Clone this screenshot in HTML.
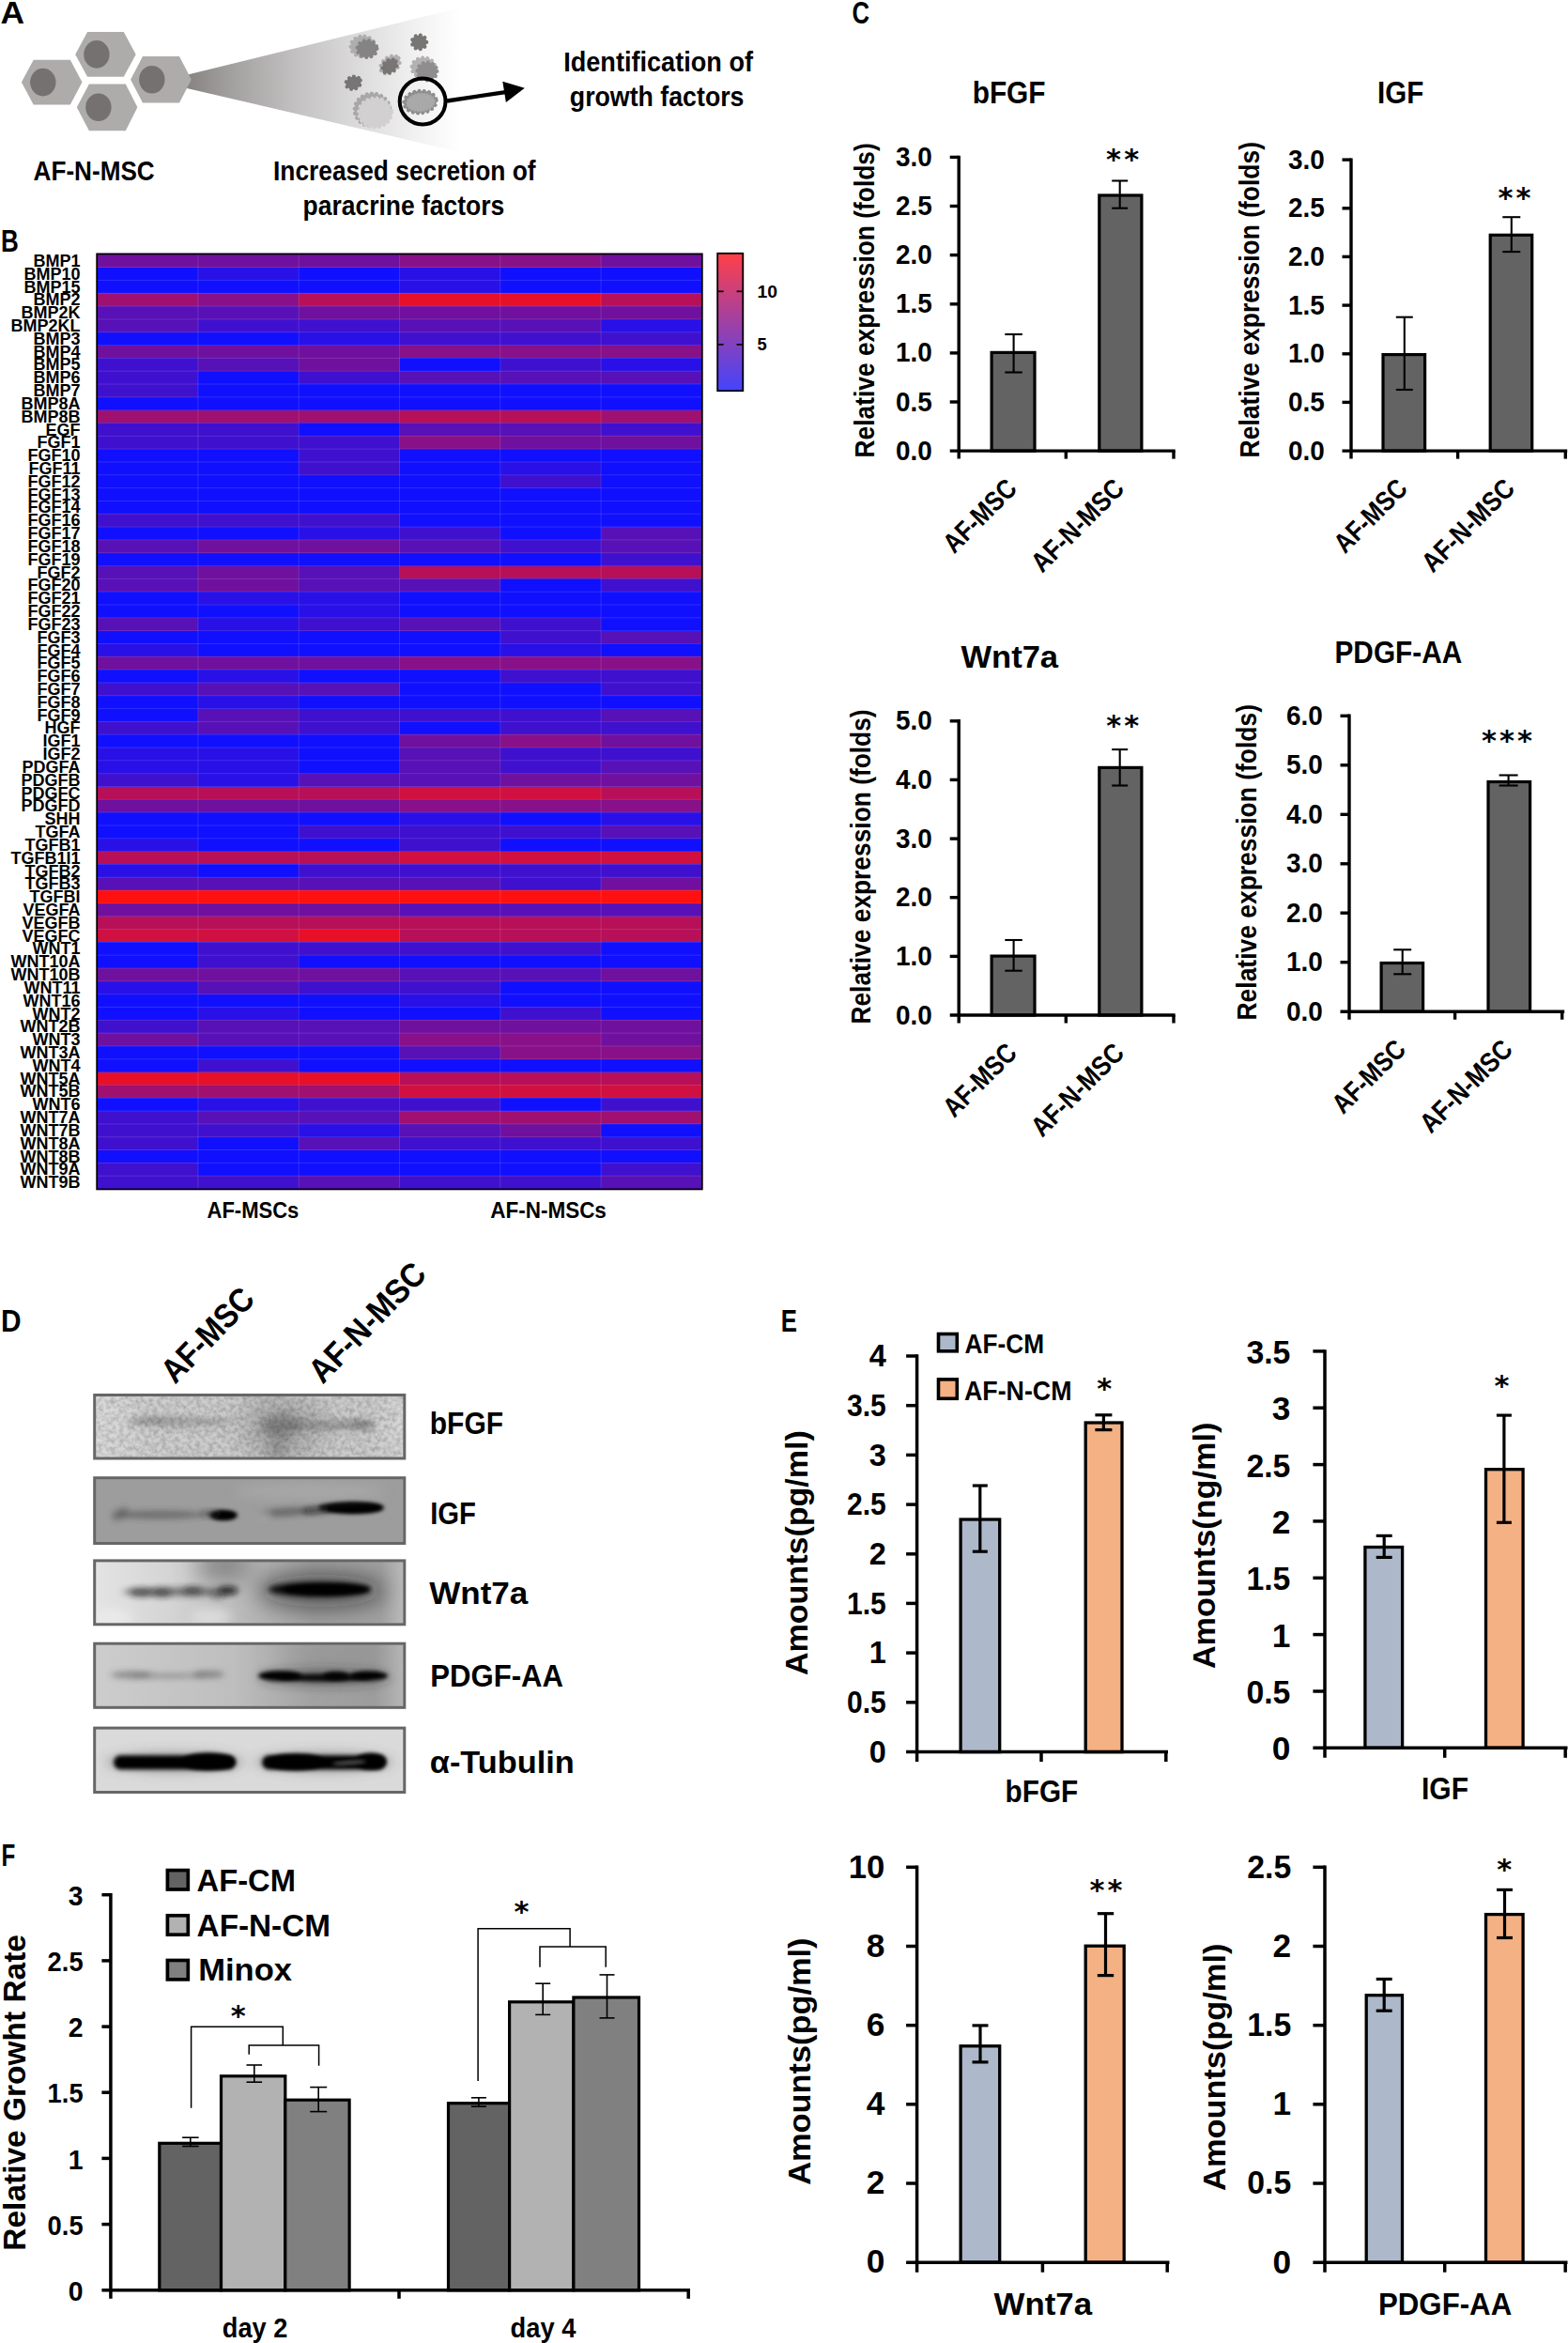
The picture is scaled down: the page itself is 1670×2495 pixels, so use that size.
<!DOCTYPE html>
<html lang="en"><head><meta charset="utf-8"><title>Figure</title>
<style>
html,body{margin:0;padding:0;background:#fff}
body{width:1670px;height:2495px;overflow:hidden}
svg{display:block}
svg line{stroke:#000}
</style></head><body>
<svg width="1670" height="2495" viewBox="0 0 1670 2495" font-family='"Liberation Sans", sans-serif' font-weight="bold" fill="#000">
<text x="0.6" y="25.3" font-size="33.80" textLength="25.6" lengthAdjust="spacingAndGlyphs">A</text>
<defs>
<linearGradient id="cone" gradientUnits="userSpaceOnUse" x1="200" y1="0" x2="490" y2="0">
<stop offset="0" stop-color="#878383"/><stop offset="0.14" stop-color="#a09d9d"/><stop offset="0.4" stop-color="#c3c1c1"/><stop offset="0.65" stop-color="#dfdede"/><stop offset="0.85" stop-color="#f2f2f2"/><stop offset="1" stop-color="#ffffff"/></linearGradient>
<filter id="rough" x="-20%" y="-20%" width="140%" height="140%"><feTurbulence type="fractalNoise" baseFrequency="0.35" numOctaves="1" seed="3" result="n"/><feDisplacementMap in="SourceGraphic" in2="n" scale="1.5" xChannelSelector="R" yChannelSelector="G"/></filter>
</defs>
<polygon points="199,79.7 490,8.2 490,162.1 199,93.9" fill="url(#cone)"/>
<polygon points="80.2,57.9 93.1,34.0 131.8,34.0 144.7,57.9 131.8,81.7 93.1,81.7" fill="#aeabab"/>
<ellipse cx="102.9" cy="57.9" rx="13.7" ry="14.8" fill="#767171"/>
<polygon points="22.9,87.6 35.7,63.8 74.8,63.8 87.5,87.6 74.8,111.5 35.7,111.5" fill="#aeabab"/>
<ellipse cx="45.8" cy="87.6" rx="13.7" ry="14.8" fill="#767171"/>
<polygon points="139.1,84.8 152.0,60.0 191.0,60.0 203.9,84.8 191.0,109.5 152.0,109.5" fill="#aeabab"/>
<ellipse cx="161.8" cy="84.8" rx="13.7" ry="14.8" fill="#767171"/>
<polygon points="81.8,114.3 94.9,89.5 133.8,89.5 146.4,114.3 133.8,139.3 94.9,139.3" fill="#aeabab"/>
<ellipse cx="104.9" cy="114.3" rx="13.7" ry="14.8" fill="#767171"/>
<g filter="url(#rough)">
<ellipse cx="386.5" cy="49.5" rx="13" ry="11" fill="#aeaeae" stroke="#aeaeae" stroke-width="4.0" stroke-linecap="round" stroke-dasharray="0.1 5.20"/>
<ellipse cx="391" cy="52" rx="10.5" ry="9" fill="#858383" stroke="#858383" stroke-width="4.0" stroke-linecap="round" stroke-dasharray="0.1 5.20"/>
<ellipse cx="446.5" cy="44.9" rx="7.8" ry="7.5" fill="#787474" stroke="#787474" stroke-width="4.0" stroke-linecap="round" stroke-dasharray="0.1 5.20"/>
<ellipse cx="415.5" cy="69" rx="11.5" ry="8" fill="#b0aeae" stroke="#b0aeae" stroke-width="4.0" stroke-linecap="round" stroke-dasharray="0.1 5.20" transform="rotate(-38 415.5 69)"/>
<ellipse cx="415" cy="70.5" rx="8.5" ry="6.3" fill="#787474" stroke="#787474" stroke-width="4.0" stroke-linecap="round" stroke-dasharray="0.1 5.20" transform="rotate(-38 415 70.5)"/>
<ellipse cx="451" cy="72" rx="12.5" ry="10.5" fill="#b3b1b1" stroke="#b3b1b1" stroke-width="4.0" stroke-linecap="round" stroke-dasharray="0.1 5.20"/>
<ellipse cx="455" cy="76" rx="10.5" ry="9.5" fill="#8f8d8d" stroke="#8f8d8d" stroke-width="4.0" stroke-linecap="round" stroke-dasharray="0.1 5.20"/>
<ellipse cx="376.3" cy="88.2" rx="8" ry="6.6" fill="#787474" stroke="#787474" stroke-width="4.0" stroke-linecap="round" stroke-dasharray="0.1 5.20" transform="rotate(-20 376.3 88.2)"/>
<ellipse cx="396.5" cy="117" rx="19" ry="17.5" fill="#a9a7a7" stroke="#a9a7a7" stroke-width="4.0" stroke-linecap="round" stroke-dasharray="0.1 5.20"/>
<ellipse cx="399.5" cy="120" rx="17.5" ry="15.5" fill="#d2d0d0" stroke="#d2d0d0" stroke-width="4.0" stroke-linecap="round" stroke-dasharray="0.1 5.20"/>
<ellipse cx="447.5" cy="108.6" rx="17.3" ry="11.8" fill="#8e8c8c" stroke="#8e8c8c" stroke-width="4.0" stroke-linecap="round" stroke-dasharray="0.1 5.20" transform="rotate(-6 447.5 108.6)"/>
<ellipse cx="448" cy="109" rx="14.5" ry="9.2" fill="#a9a9a9" stroke="#a9a9a9" stroke-width="2.4" stroke-linecap="round" stroke-dasharray="0.1 3.12" transform="rotate(-6 448 109)"/>
</g>
<circle cx="450.1" cy="108" r="24.4" fill="none" stroke="#000" stroke-width="4"/>
<line x1="476.0" y1="107.5" x2="540.0" y2="97.9" stroke-width="4.3"/>
<polygon points="535.3,86.7 558.8,93.7 538.9,109" fill="#000"/>
<text x="35.6" y="192.3" font-size="29.30" textLength="129.1" lengthAdjust="spacingAndGlyphs">AF-N-MSC</text>
<text x="291.0" y="192.1" font-size="29.30" textLength="279.5" lengthAdjust="spacingAndGlyphs">Increased secretion of</text>
<text x="322.6" y="228.9" font-size="29.30" textLength="214.7" lengthAdjust="spacingAndGlyphs">paracrine factors</text>
<text x="600.2" y="76.3" font-size="29.30" textLength="201.8" lengthAdjust="spacingAndGlyphs">Identification of</text>
<text x="606.8" y="112.9" font-size="29.30" textLength="185.7" lengthAdjust="spacingAndGlyphs">growth factors</text>
<text x="0.9" y="268.3" font-size="33.80" textLength="18.8" lengthAdjust="spacingAndGlyphs">B</text>
<g shape-rendering="crispEdges">
<rect x="103.6" y="270.80" width="322.2" height="14.12" fill="#70109f"/>
<rect x="425.5" y="270.80" width="214.9" height="14.12" fill="#881088"/>
<rect x="640.1" y="270.80" width="107.6" height="14.12" fill="#70109f"/>
<rect x="103.6" y="284.62" width="107.6" height="14.12" fill="#1010ff"/>
<rect x="210.9" y="284.62" width="107.6" height="14.12" fill="#2810e7"/>
<rect x="318.2" y="284.62" width="107.6" height="14.12" fill="#1010ff"/>
<rect x="425.5" y="284.62" width="107.6" height="14.12" fill="#2810e7"/>
<rect x="532.8" y="284.62" width="214.9" height="14.12" fill="#1010ff"/>
<rect x="103.6" y="298.44" width="322.2" height="14.12" fill="#1010ff"/>
<rect x="425.5" y="298.44" width="107.6" height="14.12" fill="#2810e7"/>
<rect x="532.8" y="298.44" width="214.9" height="14.12" fill="#1010ff"/>
<rect x="103.6" y="312.27" width="107.6" height="14.12" fill="#9f1070"/>
<rect x="210.9" y="312.27" width="107.6" height="14.12" fill="#881088"/>
<rect x="318.2" y="312.27" width="107.6" height="14.12" fill="#b71058"/>
<rect x="425.5" y="312.27" width="214.9" height="14.12" fill="#e71028"/>
<rect x="640.1" y="312.27" width="107.6" height="14.12" fill="#b71058"/>
<rect x="103.6" y="326.09" width="214.9" height="14.12" fill="#5810b7"/>
<rect x="318.2" y="326.09" width="429.5" height="14.12" fill="#70109f"/>
<rect x="103.6" y="339.91" width="107.6" height="14.12" fill="#5810b7"/>
<rect x="210.9" y="339.91" width="214.9" height="14.12" fill="#4010cf"/>
<rect x="425.5" y="339.91" width="214.9" height="14.12" fill="#5810b7"/>
<rect x="640.1" y="339.91" width="107.6" height="14.12" fill="#2810e7"/>
<rect x="103.6" y="353.73" width="214.9" height="14.12" fill="#1010ff"/>
<rect x="318.2" y="353.73" width="107.6" height="14.12" fill="#2810e7"/>
<rect x="425.5" y="353.73" width="322.2" height="14.12" fill="#4010cf"/>
<rect x="103.6" y="367.56" width="322.2" height="14.12" fill="#70109f"/>
<rect x="425.5" y="367.56" width="322.2" height="14.12" fill="#881088"/>
<rect x="103.6" y="381.38" width="107.6" height="14.12" fill="#4010cf"/>
<rect x="210.9" y="381.38" width="107.6" height="14.12" fill="#5810b7"/>
<rect x="318.2" y="381.38" width="107.6" height="14.12" fill="#70109f"/>
<rect x="425.5" y="381.38" width="107.6" height="14.12" fill="#1010ff"/>
<rect x="532.8" y="381.38" width="107.6" height="14.12" fill="#4010cf"/>
<rect x="640.1" y="381.38" width="107.6" height="14.12" fill="#2810e7"/>
<rect x="103.6" y="395.20" width="107.6" height="14.12" fill="#4010cf"/>
<rect x="210.9" y="395.20" width="107.6" height="14.12" fill="#1010ff"/>
<rect x="318.2" y="395.20" width="107.6" height="14.12" fill="#4010cf"/>
<rect x="425.5" y="395.20" width="322.2" height="14.12" fill="#5810b7"/>
<rect x="103.6" y="409.02" width="107.6" height="14.12" fill="#4010cf"/>
<rect x="210.9" y="409.02" width="536.8" height="14.12" fill="#1010ff"/>
<rect x="103.6" y="422.84" width="644.1" height="14.12" fill="#1010ff"/>
<rect x="103.6" y="436.67" width="322.2" height="14.12" fill="#9f1070"/>
<rect x="425.5" y="436.67" width="214.9" height="14.12" fill="#b71058"/>
<rect x="640.1" y="436.67" width="107.6" height="14.12" fill="#9f1070"/>
<rect x="103.6" y="450.49" width="214.9" height="14.12" fill="#4010cf"/>
<rect x="318.2" y="450.49" width="107.6" height="14.12" fill="#1010ff"/>
<rect x="425.5" y="450.49" width="214.9" height="14.12" fill="#5810b7"/>
<rect x="640.1" y="450.49" width="107.6" height="14.12" fill="#4010cf"/>
<rect x="103.6" y="464.31" width="322.2" height="14.12" fill="#4010cf"/>
<rect x="425.5" y="464.31" width="107.6" height="14.12" fill="#881088"/>
<rect x="532.8" y="464.31" width="214.9" height="14.12" fill="#70109f"/>
<rect x="103.6" y="478.13" width="214.9" height="14.12" fill="#1010ff"/>
<rect x="318.2" y="478.13" width="107.6" height="14.12" fill="#4010cf"/>
<rect x="425.5" y="478.13" width="322.2" height="14.12" fill="#1010ff"/>
<rect x="103.6" y="491.96" width="214.9" height="14.12" fill="#1010ff"/>
<rect x="318.2" y="491.96" width="107.6" height="14.12" fill="#4010cf"/>
<rect x="425.5" y="491.96" width="107.6" height="14.12" fill="#1010ff"/>
<rect x="532.8" y="491.96" width="107.6" height="14.12" fill="#2810e7"/>
<rect x="640.1" y="491.96" width="107.6" height="14.12" fill="#1010ff"/>
<rect x="103.6" y="505.78" width="429.5" height="14.12" fill="#1010ff"/>
<rect x="532.8" y="505.78" width="107.6" height="14.12" fill="#4010cf"/>
<rect x="640.1" y="505.78" width="107.6" height="14.12" fill="#1010ff"/>
<rect x="103.6" y="519.60" width="644.1" height="14.12" fill="#1010ff"/>
<rect x="103.6" y="533.42" width="644.1" height="14.12" fill="#1010ff"/>
<rect x="103.6" y="547.24" width="322.2" height="14.12" fill="#4010cf"/>
<rect x="425.5" y="547.24" width="322.2" height="14.12" fill="#1010ff"/>
<rect x="103.6" y="561.07" width="214.9" height="14.12" fill="#1010ff"/>
<rect x="318.2" y="561.07" width="107.6" height="14.12" fill="#2810e7"/>
<rect x="425.5" y="561.07" width="107.6" height="14.12" fill="#4010cf"/>
<rect x="532.8" y="561.07" width="107.6" height="14.12" fill="#1010ff"/>
<rect x="640.1" y="561.07" width="107.6" height="14.12" fill="#5810b7"/>
<rect x="103.6" y="574.89" width="107.6" height="14.12" fill="#5810b7"/>
<rect x="210.9" y="574.89" width="214.9" height="14.12" fill="#70109f"/>
<rect x="425.5" y="574.89" width="107.6" height="14.12" fill="#5810b7"/>
<rect x="532.8" y="574.89" width="107.6" height="14.12" fill="#4010cf"/>
<rect x="640.1" y="574.89" width="107.6" height="14.12" fill="#5810b7"/>
<rect x="103.6" y="588.71" width="536.8" height="14.12" fill="#1010ff"/>
<rect x="640.1" y="588.71" width="107.6" height="14.12" fill="#4010cf"/>
<rect x="103.6" y="602.53" width="107.6" height="14.12" fill="#5810b7"/>
<rect x="210.9" y="602.53" width="107.6" height="14.12" fill="#70109f"/>
<rect x="318.2" y="602.53" width="107.6" height="14.12" fill="#5810b7"/>
<rect x="425.5" y="602.53" width="322.2" height="14.12" fill="#b71058"/>
<rect x="103.6" y="616.36" width="107.6" height="14.12" fill="#5810b7"/>
<rect x="210.9" y="616.36" width="107.6" height="14.12" fill="#70109f"/>
<rect x="318.2" y="616.36" width="214.9" height="14.12" fill="#5810b7"/>
<rect x="532.8" y="616.36" width="107.6" height="14.12" fill="#1010ff"/>
<rect x="640.1" y="616.36" width="107.6" height="14.12" fill="#4010cf"/>
<rect x="103.6" y="630.18" width="107.6" height="14.12" fill="#1010ff"/>
<rect x="210.9" y="630.18" width="214.9" height="14.12" fill="#2810e7"/>
<rect x="425.5" y="630.18" width="322.2" height="14.12" fill="#1010ff"/>
<rect x="103.6" y="644.00" width="214.9" height="14.12" fill="#1010ff"/>
<rect x="318.2" y="644.00" width="107.6" height="14.12" fill="#2810e7"/>
<rect x="425.5" y="644.00" width="322.2" height="14.12" fill="#1010ff"/>
<rect x="103.6" y="657.82" width="107.6" height="14.12" fill="#5810b7"/>
<rect x="210.9" y="657.82" width="107.6" height="14.12" fill="#2810e7"/>
<rect x="318.2" y="657.82" width="107.6" height="14.12" fill="#4010cf"/>
<rect x="425.5" y="657.82" width="107.6" height="14.12" fill="#5810b7"/>
<rect x="532.8" y="657.82" width="107.6" height="14.12" fill="#4010cf"/>
<rect x="640.1" y="657.82" width="107.6" height="14.12" fill="#1010ff"/>
<rect x="103.6" y="671.64" width="429.5" height="14.12" fill="#1010ff"/>
<rect x="532.8" y="671.64" width="107.6" height="14.12" fill="#4010cf"/>
<rect x="640.1" y="671.64" width="107.6" height="14.12" fill="#5810b7"/>
<rect x="103.6" y="685.47" width="107.6" height="14.12" fill="#2810e7"/>
<rect x="210.9" y="685.47" width="322.2" height="14.12" fill="#1010ff"/>
<rect x="532.8" y="685.47" width="107.6" height="14.12" fill="#2810e7"/>
<rect x="640.1" y="685.47" width="107.6" height="14.12" fill="#1010ff"/>
<rect x="103.6" y="699.29" width="322.2" height="14.12" fill="#70109f"/>
<rect x="425.5" y="699.29" width="322.2" height="14.12" fill="#881088"/>
<rect x="103.6" y="713.11" width="107.6" height="14.12" fill="#1010ff"/>
<rect x="210.9" y="713.11" width="107.6" height="14.12" fill="#2810e7"/>
<rect x="318.2" y="713.11" width="214.9" height="14.12" fill="#1010ff"/>
<rect x="532.8" y="713.11" width="214.9" height="14.12" fill="#4010cf"/>
<rect x="103.6" y="726.93" width="107.6" height="14.12" fill="#4010cf"/>
<rect x="210.9" y="726.93" width="214.9" height="14.12" fill="#5810b7"/>
<rect x="425.5" y="726.93" width="214.9" height="14.12" fill="#1010ff"/>
<rect x="640.1" y="726.93" width="107.6" height="14.12" fill="#4010cf"/>
<rect x="103.6" y="740.76" width="107.6" height="14.12" fill="#1010ff"/>
<rect x="210.9" y="740.76" width="107.6" height="14.12" fill="#2810e7"/>
<rect x="318.2" y="740.76" width="429.5" height="14.12" fill="#1010ff"/>
<rect x="103.6" y="754.58" width="107.6" height="14.12" fill="#1010ff"/>
<rect x="210.9" y="754.58" width="107.6" height="14.12" fill="#5810b7"/>
<rect x="318.2" y="754.58" width="322.2" height="14.12" fill="#4010cf"/>
<rect x="640.1" y="754.58" width="107.6" height="14.12" fill="#5810b7"/>
<rect x="103.6" y="768.40" width="107.6" height="14.12" fill="#4010cf"/>
<rect x="210.9" y="768.40" width="107.6" height="14.12" fill="#5810b7"/>
<rect x="318.2" y="768.40" width="107.6" height="14.12" fill="#4010cf"/>
<rect x="425.5" y="768.40" width="107.6" height="14.12" fill="#1010ff"/>
<rect x="532.8" y="768.40" width="214.9" height="14.12" fill="#4010cf"/>
<rect x="103.6" y="782.22" width="322.2" height="14.12" fill="#1010ff"/>
<rect x="425.5" y="782.22" width="107.6" height="14.12" fill="#70109f"/>
<rect x="532.8" y="782.22" width="107.6" height="14.12" fill="#881088"/>
<rect x="640.1" y="782.22" width="107.6" height="14.12" fill="#70109f"/>
<rect x="103.6" y="796.04" width="214.9" height="14.12" fill="#2810e7"/>
<rect x="318.2" y="796.04" width="107.6" height="14.12" fill="#1010ff"/>
<rect x="425.5" y="796.04" width="107.6" height="14.12" fill="#5810b7"/>
<rect x="532.8" y="796.04" width="214.9" height="14.12" fill="#4010cf"/>
<rect x="103.6" y="809.87" width="214.9" height="14.12" fill="#2810e7"/>
<rect x="318.2" y="809.87" width="107.6" height="14.12" fill="#1010ff"/>
<rect x="425.5" y="809.87" width="107.6" height="14.12" fill="#5810b7"/>
<rect x="532.8" y="809.87" width="107.6" height="14.12" fill="#4010cf"/>
<rect x="640.1" y="809.87" width="107.6" height="14.12" fill="#5810b7"/>
<rect x="103.6" y="823.69" width="107.6" height="14.12" fill="#4010cf"/>
<rect x="210.9" y="823.69" width="107.6" height="14.12" fill="#2810e7"/>
<rect x="318.2" y="823.69" width="214.9" height="14.12" fill="#5810b7"/>
<rect x="532.8" y="823.69" width="214.9" height="14.12" fill="#70109f"/>
<rect x="103.6" y="837.51" width="322.2" height="14.12" fill="#b71058"/>
<rect x="425.5" y="837.51" width="214.9" height="14.12" fill="#cf1040"/>
<rect x="640.1" y="837.51" width="107.6" height="14.12" fill="#b71058"/>
<rect x="103.6" y="851.33" width="322.2" height="14.12" fill="#70109f"/>
<rect x="425.5" y="851.33" width="322.2" height="14.12" fill="#881088"/>
<rect x="103.6" y="865.16" width="322.2" height="14.12" fill="#1010ff"/>
<rect x="425.5" y="865.16" width="107.6" height="14.12" fill="#2810e7"/>
<rect x="532.8" y="865.16" width="107.6" height="14.12" fill="#1010ff"/>
<rect x="640.1" y="865.16" width="107.6" height="14.12" fill="#2810e7"/>
<rect x="103.6" y="878.98" width="214.9" height="14.12" fill="#1010ff"/>
<rect x="318.2" y="878.98" width="322.2" height="14.12" fill="#4010cf"/>
<rect x="640.1" y="878.98" width="107.6" height="14.12" fill="#5810b7"/>
<rect x="103.6" y="892.80" width="107.6" height="14.12" fill="#2810e7"/>
<rect x="210.9" y="892.80" width="214.9" height="14.12" fill="#1010ff"/>
<rect x="425.5" y="892.80" width="107.6" height="14.12" fill="#4010cf"/>
<rect x="532.8" y="892.80" width="214.9" height="14.12" fill="#1010ff"/>
<rect x="103.6" y="906.62" width="322.2" height="14.12" fill="#b71058"/>
<rect x="425.5" y="906.62" width="322.2" height="14.12" fill="#cf1040"/>
<rect x="103.6" y="920.44" width="107.6" height="14.12" fill="#2810e7"/>
<rect x="210.9" y="920.44" width="107.6" height="14.12" fill="#1010ff"/>
<rect x="318.2" y="920.44" width="429.5" height="14.12" fill="#4010cf"/>
<rect x="103.6" y="934.27" width="429.5" height="14.12" fill="#5810b7"/>
<rect x="532.8" y="934.27" width="107.6" height="14.12" fill="#4010cf"/>
<rect x="640.1" y="934.27" width="107.6" height="14.12" fill="#70109f"/>
<rect x="103.6" y="948.09" width="644.1" height="14.12" fill="#ff1010"/>
<rect x="103.6" y="961.91" width="322.2" height="14.12" fill="#70109f"/>
<rect x="425.5" y="961.91" width="322.2" height="14.12" fill="#5810b7"/>
<rect x="103.6" y="975.73" width="644.1" height="14.12" fill="#b71058"/>
<rect x="103.6" y="989.56" width="214.9" height="14.12" fill="#cf1040"/>
<rect x="318.2" y="989.56" width="107.6" height="14.12" fill="#e71028"/>
<rect x="425.5" y="989.56" width="322.2" height="14.12" fill="#b71058"/>
<rect x="103.6" y="1003.38" width="107.6" height="14.12" fill="#1010ff"/>
<rect x="210.9" y="1003.38" width="429.5" height="14.12" fill="#4010cf"/>
<rect x="640.1" y="1003.38" width="107.6" height="14.12" fill="#1010ff"/>
<rect x="103.6" y="1017.20" width="107.6" height="14.12" fill="#1010ff"/>
<rect x="210.9" y="1017.20" width="107.6" height="14.12" fill="#4010cf"/>
<rect x="318.2" y="1017.20" width="429.5" height="14.12" fill="#1010ff"/>
<rect x="103.6" y="1031.02" width="322.2" height="14.12" fill="#70109f"/>
<rect x="425.5" y="1031.02" width="214.9" height="14.12" fill="#5810b7"/>
<rect x="640.1" y="1031.02" width="107.6" height="14.12" fill="#70109f"/>
<rect x="103.6" y="1044.84" width="107.6" height="14.12" fill="#2810e7"/>
<rect x="210.9" y="1044.84" width="107.6" height="14.12" fill="#5810b7"/>
<rect x="318.2" y="1044.84" width="214.9" height="14.12" fill="#4010cf"/>
<rect x="532.8" y="1044.84" width="214.9" height="14.12" fill="#1010ff"/>
<rect x="103.6" y="1058.67" width="322.2" height="14.12" fill="#1010ff"/>
<rect x="425.5" y="1058.67" width="107.6" height="14.12" fill="#2810e7"/>
<rect x="532.8" y="1058.67" width="214.9" height="14.12" fill="#1010ff"/>
<rect x="103.6" y="1072.49" width="107.6" height="14.12" fill="#1010ff"/>
<rect x="210.9" y="1072.49" width="107.6" height="14.12" fill="#2810e7"/>
<rect x="318.2" y="1072.49" width="214.9" height="14.12" fill="#1010ff"/>
<rect x="532.8" y="1072.49" width="107.6" height="14.12" fill="#4010cf"/>
<rect x="640.1" y="1072.49" width="107.6" height="14.12" fill="#1010ff"/>
<rect x="103.6" y="1086.31" width="107.6" height="14.12" fill="#4010cf"/>
<rect x="210.9" y="1086.31" width="214.9" height="14.12" fill="#5810b7"/>
<rect x="425.5" y="1086.31" width="322.2" height="14.12" fill="#70109f"/>
<rect x="103.6" y="1100.13" width="107.6" height="14.12" fill="#70109f"/>
<rect x="210.9" y="1100.13" width="214.9" height="14.12" fill="#5810b7"/>
<rect x="425.5" y="1100.13" width="214.9" height="14.12" fill="#881088"/>
<rect x="640.1" y="1100.13" width="107.6" height="14.12" fill="#70109f"/>
<rect x="103.6" y="1113.96" width="322.2" height="14.12" fill="#1010ff"/>
<rect x="425.5" y="1113.96" width="107.6" height="14.12" fill="#5810b7"/>
<rect x="532.8" y="1113.96" width="214.9" height="14.12" fill="#881088"/>
<rect x="103.6" y="1127.78" width="107.6" height="14.12" fill="#1010ff"/>
<rect x="210.9" y="1127.78" width="107.6" height="14.12" fill="#4010cf"/>
<rect x="318.2" y="1127.78" width="429.5" height="14.12" fill="#1010ff"/>
<rect x="103.6" y="1141.60" width="322.2" height="14.12" fill="#e71028"/>
<rect x="425.5" y="1141.60" width="322.2" height="14.12" fill="#b71058"/>
<rect x="103.6" y="1155.42" width="322.2" height="14.12" fill="#9f1070"/>
<rect x="425.5" y="1155.42" width="322.2" height="14.12" fill="#cf1040"/>
<rect x="103.6" y="1169.24" width="107.6" height="14.12" fill="#1010ff"/>
<rect x="210.9" y="1169.24" width="107.6" height="14.12" fill="#2810e7"/>
<rect x="318.2" y="1169.24" width="214.9" height="14.12" fill="#4010cf"/>
<rect x="532.8" y="1169.24" width="107.6" height="14.12" fill="#1010ff"/>
<rect x="640.1" y="1169.24" width="107.6" height="14.12" fill="#4010cf"/>
<rect x="103.6" y="1183.07" width="107.6" height="14.12" fill="#4010cf"/>
<rect x="210.9" y="1183.07" width="214.9" height="14.12" fill="#5810b7"/>
<rect x="425.5" y="1183.07" width="322.2" height="14.12" fill="#9f1070"/>
<rect x="103.6" y="1196.89" width="214.9" height="14.12" fill="#4010cf"/>
<rect x="318.2" y="1196.89" width="107.6" height="14.12" fill="#2810e7"/>
<rect x="425.5" y="1196.89" width="107.6" height="14.12" fill="#5810b7"/>
<rect x="532.8" y="1196.89" width="107.6" height="14.12" fill="#70109f"/>
<rect x="640.1" y="1196.89" width="107.6" height="14.12" fill="#1010ff"/>
<rect x="103.6" y="1210.71" width="107.6" height="14.12" fill="#4010cf"/>
<rect x="210.9" y="1210.71" width="107.6" height="14.12" fill="#1010ff"/>
<rect x="318.2" y="1210.71" width="107.6" height="14.12" fill="#5810b7"/>
<rect x="425.5" y="1210.71" width="322.2" height="14.12" fill="#4010cf"/>
<rect x="103.6" y="1224.53" width="644.1" height="14.12" fill="#1010ff"/>
<rect x="103.6" y="1238.36" width="107.6" height="14.12" fill="#4010cf"/>
<rect x="210.9" y="1238.36" width="429.5" height="14.12" fill="#1010ff"/>
<rect x="640.1" y="1238.36" width="107.6" height="14.12" fill="#4010cf"/>
<rect x="103.6" y="1252.18" width="214.9" height="14.12" fill="#4010cf"/>
<rect x="318.2" y="1252.18" width="107.6" height="14.12" fill="#5810b7"/>
<rect x="425.5" y="1252.18" width="214.9" height="14.12" fill="#4010cf"/>
<rect x="640.1" y="1252.18" width="107.6" height="14.12" fill="#5810b7"/>
</g>
<path d="M210.9,270.8V1266.0M318.2,270.8V1266.0M425.5,270.8V1266.0M532.8,270.8V1266.0M640.1,270.8V1266.0M103.6,284.62H747.4M103.6,298.44H747.4M103.6,312.27H747.4M103.6,326.09H747.4M103.6,339.91H747.4M103.6,353.73H747.4M103.6,367.56H747.4M103.6,381.38H747.4M103.6,395.20H747.4M103.6,409.02H747.4M103.6,422.84H747.4M103.6,436.67H747.4M103.6,450.49H747.4M103.6,464.31H747.4M103.6,478.13H747.4M103.6,491.96H747.4M103.6,505.78H747.4M103.6,519.60H747.4M103.6,533.42H747.4M103.6,547.24H747.4M103.6,561.07H747.4M103.6,574.89H747.4M103.6,588.71H747.4M103.6,602.53H747.4M103.6,616.36H747.4M103.6,630.18H747.4M103.6,644.00H747.4M103.6,657.82H747.4M103.6,671.64H747.4M103.6,685.47H747.4M103.6,699.29H747.4M103.6,713.11H747.4M103.6,726.93H747.4M103.6,740.76H747.4M103.6,754.58H747.4M103.6,768.40H747.4M103.6,782.22H747.4M103.6,796.04H747.4M103.6,809.87H747.4M103.6,823.69H747.4M103.6,837.51H747.4M103.6,851.33H747.4M103.6,865.16H747.4M103.6,878.98H747.4M103.6,892.80H747.4M103.6,906.62H747.4M103.6,920.44H747.4M103.6,934.27H747.4M103.6,948.09H747.4M103.6,961.91H747.4M103.6,975.73H747.4M103.6,989.56H747.4M103.6,1003.38H747.4M103.6,1017.20H747.4M103.6,1031.02H747.4M103.6,1044.84H747.4M103.6,1058.67H747.4M103.6,1072.49H747.4M103.6,1086.31H747.4M103.6,1100.13H747.4M103.6,1113.96H747.4M103.6,1127.78H747.4M103.6,1141.60H747.4M103.6,1155.42H747.4M103.6,1169.24H747.4M103.6,1183.07H747.4M103.6,1196.89H747.4M103.6,1210.71H747.4M103.6,1224.53H747.4M103.6,1238.36H747.4M103.6,1252.18H747.4" stroke="#fff" stroke-opacity="0.13" stroke-width="1" fill="none"/>
<rect x="103.19999999999999" y="270.40000000000003" width="644.6" height="996.0" fill="none" stroke="#000" stroke-width="1.8"/>
<g font-size="18.22" text-anchor="end">
<text x="85.6" y="283.9" transform="translate(85.6 0) scale(0.99 1) translate(-85.6 0)">BMP1</text>
<text x="85.6" y="297.7" transform="translate(85.6 0) scale(0.99 1) translate(-85.6 0)">BMP10</text>
<text x="85.6" y="311.6" transform="translate(85.6 0) scale(0.99 1) translate(-85.6 0)">BMP15</text>
<text x="85.6" y="325.4" transform="translate(85.6 0) scale(0.99 1) translate(-85.6 0)">BMP2</text>
<text x="85.6" y="339.2" transform="translate(85.6 0) scale(0.99 1) translate(-85.6 0)">BMP2K</text>
<text x="85.6" y="353.0" transform="translate(85.6 0) scale(0.99 1) translate(-85.6 0)">BMP2KL</text>
<text x="85.6" y="366.8" transform="translate(85.6 0) scale(0.99 1) translate(-85.6 0)">BMP3</text>
<text x="85.6" y="380.7" transform="translate(85.6 0) scale(0.99 1) translate(-85.6 0)">BMP4</text>
<text x="85.6" y="394.5" transform="translate(85.6 0) scale(0.99 1) translate(-85.6 0)">BMP5</text>
<text x="85.6" y="408.3" transform="translate(85.6 0) scale(0.99 1) translate(-85.6 0)">BMP6</text>
<text x="85.6" y="422.1" transform="translate(85.6 0) scale(0.99 1) translate(-85.6 0)">BMP7</text>
<text x="85.6" y="436.0" transform="translate(85.6 0) scale(0.99 1) translate(-85.6 0)">BMP8A</text>
<text x="85.6" y="449.8" transform="translate(85.6 0) scale(0.99 1) translate(-85.6 0)">BMP8B</text>
<text x="85.6" y="463.6" transform="translate(85.6 0) scale(0.99 1) translate(-85.6 0)">EGF</text>
<text x="85.6" y="477.4" transform="translate(85.6 0) scale(0.99 1) translate(-85.6 0)">FGF1</text>
<text x="85.6" y="491.2" transform="translate(85.6 0) scale(0.99 1) translate(-85.6 0)">FGF10</text>
<text x="85.6" y="505.1" transform="translate(85.6 0) scale(0.99 1) translate(-85.6 0)">FGF11</text>
<text x="85.6" y="518.9" transform="translate(85.6 0) scale(0.99 1) translate(-85.6 0)">FGF12</text>
<text x="85.6" y="532.7" transform="translate(85.6 0) scale(0.99 1) translate(-85.6 0)">FGF13</text>
<text x="85.6" y="546.5" transform="translate(85.6 0) scale(0.99 1) translate(-85.6 0)">FGF14</text>
<text x="85.6" y="560.4" transform="translate(85.6 0) scale(0.99 1) translate(-85.6 0)">FGF16</text>
<text x="85.6" y="574.2" transform="translate(85.6 0) scale(0.99 1) translate(-85.6 0)">FGF17</text>
<text x="85.6" y="588.0" transform="translate(85.6 0) scale(0.99 1) translate(-85.6 0)">FGF18</text>
<text x="85.6" y="601.8" transform="translate(85.6 0) scale(0.99 1) translate(-85.6 0)">FGF19</text>
<text x="85.6" y="615.6" transform="translate(85.6 0) scale(0.99 1) translate(-85.6 0)">FGF2</text>
<text x="85.6" y="629.5" transform="translate(85.6 0) scale(0.99 1) translate(-85.6 0)">FGF20</text>
<text x="85.6" y="643.3" transform="translate(85.6 0) scale(0.99 1) translate(-85.6 0)">FGF21</text>
<text x="85.6" y="657.1" transform="translate(85.6 0) scale(0.99 1) translate(-85.6 0)">FGF22</text>
<text x="85.6" y="670.9" transform="translate(85.6 0) scale(0.99 1) translate(-85.6 0)">FGF23</text>
<text x="85.6" y="684.8" transform="translate(85.6 0) scale(0.99 1) translate(-85.6 0)">FGF3</text>
<text x="85.6" y="698.6" transform="translate(85.6 0) scale(0.99 1) translate(-85.6 0)">FGF4</text>
<text x="85.6" y="712.4" transform="translate(85.6 0) scale(0.99 1) translate(-85.6 0)">FGF5</text>
<text x="85.6" y="726.2" transform="translate(85.6 0) scale(0.99 1) translate(-85.6 0)">FGF6</text>
<text x="85.6" y="740.0" transform="translate(85.6 0) scale(0.99 1) translate(-85.6 0)">FGF7</text>
<text x="85.6" y="753.9" transform="translate(85.6 0) scale(0.99 1) translate(-85.6 0)">FGF8</text>
<text x="85.6" y="767.7" transform="translate(85.6 0) scale(0.99 1) translate(-85.6 0)">FGF9</text>
<text x="85.6" y="781.5" transform="translate(85.6 0) scale(0.99 1) translate(-85.6 0)">HGF</text>
<text x="85.6" y="795.3" transform="translate(85.6 0) scale(0.99 1) translate(-85.6 0)">IGF1</text>
<text x="85.6" y="809.2" transform="translate(85.6 0) scale(0.99 1) translate(-85.6 0)">IGF2</text>
<text x="85.6" y="823.0" transform="translate(85.6 0) scale(0.99 1) translate(-85.6 0)">PDGFA</text>
<text x="85.6" y="836.8" transform="translate(85.6 0) scale(0.99 1) translate(-85.6 0)">PDGFB</text>
<text x="85.6" y="850.6" transform="translate(85.6 0) scale(0.99 1) translate(-85.6 0)">PDGFC</text>
<text x="85.6" y="864.4" transform="translate(85.6 0) scale(0.99 1) translate(-85.6 0)">PDGFD</text>
<text x="85.6" y="878.3" transform="translate(85.6 0) scale(0.99 1) translate(-85.6 0)">SHH</text>
<text x="85.6" y="892.1" transform="translate(85.6 0) scale(0.99 1) translate(-85.6 0)">TGFA</text>
<text x="85.6" y="905.9" transform="translate(85.6 0) scale(0.99 1) translate(-85.6 0)">TGFB1</text>
<text x="85.6" y="919.7" transform="translate(85.6 0) scale(0.99 1) translate(-85.6 0)">TGFB1I1</text>
<text x="85.6" y="933.6" transform="translate(85.6 0) scale(0.99 1) translate(-85.6 0)">TGFB2</text>
<text x="85.6" y="947.4" transform="translate(85.6 0) scale(0.99 1) translate(-85.6 0)">TGFB3</text>
<text x="85.6" y="961.2" transform="translate(85.6 0) scale(0.99 1) translate(-85.6 0)">TGFBI</text>
<text x="85.6" y="975.0" transform="translate(85.6 0) scale(0.99 1) translate(-85.6 0)">VEGFA</text>
<text x="85.6" y="988.8" transform="translate(85.6 0) scale(0.99 1) translate(-85.6 0)">VEGFB</text>
<text x="85.6" y="1002.7" transform="translate(85.6 0) scale(0.99 1) translate(-85.6 0)">VEGFC</text>
<text x="85.6" y="1016.5" transform="translate(85.6 0) scale(0.99 1) translate(-85.6 0)">WNT1</text>
<text x="85.6" y="1030.3" transform="translate(85.6 0) scale(0.99 1) translate(-85.6 0)">WNT10A</text>
<text x="85.6" y="1044.1" transform="translate(85.6 0) scale(0.99 1) translate(-85.6 0)">WNT10B</text>
<text x="85.6" y="1058.0" transform="translate(85.6 0) scale(0.99 1) translate(-85.6 0)">WNT11</text>
<text x="85.6" y="1071.8" transform="translate(85.6 0) scale(0.99 1) translate(-85.6 0)">WNT16</text>
<text x="85.6" y="1085.6" transform="translate(85.6 0) scale(0.99 1) translate(-85.6 0)">WNT2</text>
<text x="85.6" y="1099.4" transform="translate(85.6 0) scale(0.99 1) translate(-85.6 0)">WNT2B</text>
<text x="85.6" y="1113.2" transform="translate(85.6 0) scale(0.99 1) translate(-85.6 0)">WNT3</text>
<text x="85.6" y="1127.1" transform="translate(85.6 0) scale(0.99 1) translate(-85.6 0)">WNT3A</text>
<text x="85.6" y="1140.9" transform="translate(85.6 0) scale(0.99 1) translate(-85.6 0)">WNT4</text>
<text x="85.6" y="1154.7" transform="translate(85.6 0) scale(0.99 1) translate(-85.6 0)">WNT5A</text>
<text x="85.6" y="1168.5" transform="translate(85.6 0) scale(0.99 1) translate(-85.6 0)">WNT5B</text>
<text x="85.6" y="1182.4" transform="translate(85.6 0) scale(0.99 1) translate(-85.6 0)">WNT6</text>
<text x="85.6" y="1196.2" transform="translate(85.6 0) scale(0.99 1) translate(-85.6 0)">WNT7A</text>
<text x="85.6" y="1210.0" transform="translate(85.6 0) scale(0.99 1) translate(-85.6 0)">WNT7B</text>
<text x="85.6" y="1223.8" transform="translate(85.6 0) scale(0.99 1) translate(-85.6 0)">WNT8A</text>
<text x="85.6" y="1237.6" transform="translate(85.6 0) scale(0.99 1) translate(-85.6 0)">WNT8B</text>
<text x="85.6" y="1251.5" transform="translate(85.6 0) scale(0.99 1) translate(-85.6 0)">WNT9A</text>
<text x="85.6" y="1265.3" transform="translate(85.6 0) scale(0.99 1) translate(-85.6 0)">WNT9B</text>
</g>
<text x="220.5" y="1297.1" font-size="24.54" textLength="97.8" lengthAdjust="spacingAndGlyphs">AF-MSCs</text>
<text x="522.2" y="1297.1" font-size="24.54" textLength="123.7" lengthAdjust="spacingAndGlyphs">AF-N-MSCs</text>
<defs><linearGradient id="cb" x1="0" y1="0" x2="0" y2="1"><stop offset="0" stop-color="#ff4048"/><stop offset="0.5" stop-color="#a040a4"/><stop offset="1" stop-color="#4444fc"/></linearGradient></defs>
<rect x="764.2" y="269.8" width="27.1" height="146.4" fill="url(#cb)" stroke="#000" stroke-width="1.8"/>
<line x1="764.2" y1="310.3" x2="770.6" y2="310.3" stroke-width="1.7"/>
<line x1="784.6" y1="310.3" x2="791.3" y2="310.3" stroke-width="1.7"/>
<line x1="764.2" y1="366.9" x2="770.6" y2="366.9" stroke-width="1.7"/>
<line x1="784.6" y1="366.9" x2="791.3" y2="366.9" stroke-width="1.7"/>
<text x="806.5" y="316.7" font-size="18.88" textLength="21.5" lengthAdjust="spacingAndGlyphs">10</text>
<text x="806.5" y="373.3" font-size="18.88" textLength="10.2" lengthAdjust="spacingAndGlyphs">5</text>
<text x="907.6" y="25.3" font-size="33.80" textLength="18.6" lengthAdjust="spacingAndGlyphs">C</text>
<rect x="1056.1" y="375.4" width="45.9" height="104.7" fill="#636363" stroke="#000" stroke-width="3.2"/>
<rect x="1170.8" y="208.0" width="45.1" height="272.1" fill="#636363" stroke="#000" stroke-width="3.2"/>
<line x1="1079.6" y1="356.0" x2="1079.6" y2="396.5" stroke-width="2.1"/><line x1="1070.3" y1="356.0" x2="1088.8" y2="356.0" stroke-width="2.1"/><line x1="1070.3" y1="396.5" x2="1088.8" y2="396.5" stroke-width="2.1"/>
<line x1="1192.7" y1="192.5" x2="1192.7" y2="221.7" stroke-width="2.1"/><line x1="1184.2" y1="192.5" x2="1201.2" y2="192.5" stroke-width="2.1"/><line x1="1184.2" y1="221.7" x2="1201.2" y2="221.7" stroke-width="2.1"/>
<line x1="1021.2" y1="165.7" x2="1021.2" y2="488.6" stroke-width="3.4"/>
<line x1="1011.7" y1="480.1" x2="1251.7" y2="480.1" stroke-width="3.4"/>
<line x1="1011.7" y1="167.4" x2="1021.2" y2="167.4" stroke-width="3.4"/>
<text x="992.9" y="176.9" font-size="29.30" text-anchor="end" textLength="38.8" lengthAdjust="spacingAndGlyphs">3.0</text>
<line x1="1011.7" y1="219.5" x2="1021.2" y2="219.5" stroke-width="3.4"/>
<text x="992.9" y="229.0" font-size="29.30" text-anchor="end" textLength="38.8" lengthAdjust="spacingAndGlyphs">2.5</text>
<line x1="1011.7" y1="271.6" x2="1021.2" y2="271.6" stroke-width="3.4"/>
<text x="992.9" y="281.1" font-size="29.30" text-anchor="end" textLength="38.8" lengthAdjust="spacingAndGlyphs">2.0</text>
<line x1="1011.7" y1="323.8" x2="1021.2" y2="323.8" stroke-width="3.4"/>
<text x="992.9" y="333.2" font-size="29.30" text-anchor="end" textLength="38.8" lengthAdjust="spacingAndGlyphs">1.5</text>
<line x1="1011.7" y1="375.9" x2="1021.2" y2="375.9" stroke-width="3.4"/>
<text x="992.9" y="385.4" font-size="29.30" text-anchor="end" textLength="38.8" lengthAdjust="spacingAndGlyphs">1.0</text>
<line x1="1011.7" y1="428.0" x2="1021.2" y2="428.0" stroke-width="3.4"/>
<text x="992.9" y="437.5" font-size="29.30" text-anchor="end" textLength="38.8" lengthAdjust="spacingAndGlyphs">0.5</text>
<text x="992.9" y="489.6" font-size="29.30" text-anchor="end" textLength="38.8" lengthAdjust="spacingAndGlyphs">0.0</text>
<line x1="1135.3" y1="480.1" x2="1135.3" y2="488.6" stroke-width="3.4"/>
<line x1="1250.0" y1="480.1" x2="1250.0" y2="488.6" stroke-width="3.4"/>
<text x="1178.1" y="180.2" font-size="30.5" font-family='"DejaVu Sans", "Liberation Sans", sans-serif' letter-spacing="3.1">**</text>
<text x="1035.7" y="109.7" font-size="34.00" textLength="77.8" lengthAdjust="spacingAndGlyphs">bFGF</text>
<text x="931.3" y="487.4" font-size="29.30" textLength="335.1" lengthAdjust="spacingAndGlyphs" transform="rotate(-90 931.3 487.4)">Relative expression (folds)</text>
<text x="1084.6" y="522.1" font-size="29.30" text-anchor="end" textLength="96.6" lengthAdjust="spacingAndGlyphs" transform="rotate(-45 1084.6 522.1)">AF-MSC</text>
<text x="1198.9" y="522.1" font-size="29.30" text-anchor="end" textLength="125.7" lengthAdjust="spacingAndGlyphs" transform="rotate(-45 1198.9 522.1)">AF-N-MSC</text>
<rect x="1473.0" y="377.6" width="44.6" height="102.5" fill="#636363" stroke="#000" stroke-width="3.2"/>
<rect x="1587.2" y="250.3" width="44.5" height="229.8" fill="#636363" stroke="#000" stroke-width="3.2"/>
<line x1="1495.8" y1="337.7" x2="1495.8" y2="415.0" stroke-width="2.1"/><line x1="1486.8" y1="337.7" x2="1504.8" y2="337.7" stroke-width="2.1"/><line x1="1486.8" y1="415.0" x2="1504.8" y2="415.0" stroke-width="2.1"/>
<line x1="1609.8" y1="231.2" x2="1609.8" y2="268.1" stroke-width="2.1"/><line x1="1600.3" y1="231.2" x2="1619.3" y2="231.2" stroke-width="2.1"/><line x1="1600.3" y1="268.1" x2="1619.3" y2="268.1" stroke-width="2.1"/>
<line x1="1439.0" y1="168.4" x2="1439.0" y2="488.6" stroke-width="3.4"/>
<line x1="1429.5" y1="480.1" x2="1669.2" y2="480.1" stroke-width="3.4"/>
<line x1="1429.5" y1="170.1" x2="1439.0" y2="170.1" stroke-width="3.4"/>
<text x="1410.7" y="179.6" font-size="29.30" text-anchor="end" textLength="38.8" lengthAdjust="spacingAndGlyphs">3.0</text>
<line x1="1429.5" y1="221.8" x2="1439.0" y2="221.8" stroke-width="3.4"/>
<text x="1410.7" y="231.3" font-size="29.30" text-anchor="end" textLength="38.8" lengthAdjust="spacingAndGlyphs">2.5</text>
<line x1="1429.5" y1="273.4" x2="1439.0" y2="273.4" stroke-width="3.4"/>
<text x="1410.7" y="282.9" font-size="29.30" text-anchor="end" textLength="38.8" lengthAdjust="spacingAndGlyphs">2.0</text>
<line x1="1429.5" y1="325.1" x2="1439.0" y2="325.1" stroke-width="3.4"/>
<text x="1410.7" y="334.6" font-size="29.30" text-anchor="end" textLength="38.8" lengthAdjust="spacingAndGlyphs">1.5</text>
<line x1="1429.5" y1="376.8" x2="1439.0" y2="376.8" stroke-width="3.4"/>
<text x="1410.7" y="386.3" font-size="29.30" text-anchor="end" textLength="38.8" lengthAdjust="spacingAndGlyphs">1.0</text>
<line x1="1429.5" y1="428.4" x2="1439.0" y2="428.4" stroke-width="3.4"/>
<text x="1410.7" y="437.9" font-size="29.30" text-anchor="end" textLength="38.8" lengthAdjust="spacingAndGlyphs">0.5</text>
<text x="1410.7" y="489.6" font-size="29.30" text-anchor="end" textLength="38.8" lengthAdjust="spacingAndGlyphs">0.0</text>
<line x1="1552.6" y1="480.1" x2="1552.6" y2="488.6" stroke-width="3.4"/>
<line x1="1667.3" y1="480.1" x2="1667.3" y2="488.6" stroke-width="3.4"/>
<text x="1595.5" y="220.8" font-size="30.5" font-family='"DejaVu Sans", "Liberation Sans", sans-serif' letter-spacing="3.1">**</text>
<text x="1467.0" y="109.7" font-size="34.00" textLength="49.2" lengthAdjust="spacingAndGlyphs">IGF</text>
<text x="1341.5" y="487.4" font-size="29.30" textLength="336.4" lengthAdjust="spacingAndGlyphs" transform="rotate(-90 1341.5 487.4)">Relative expression (folds)</text>
<text x="1500.8" y="522.1" font-size="29.30" text-anchor="end" textLength="96.6" lengthAdjust="spacingAndGlyphs" transform="rotate(-45 1500.8 522.1)">AF-MSC</text>
<text x="1615.0" y="522.1" font-size="29.30" text-anchor="end" textLength="125.7" lengthAdjust="spacingAndGlyphs" transform="rotate(-45 1615.0 522.1)">AF-N-MSC</text>
<rect x="1056.1" y="1018.1" width="45.9" height="62.9" fill="#636363" stroke="#000" stroke-width="3.2"/>
<rect x="1170.8" y="817.4" width="45.1" height="263.6" fill="#636363" stroke="#000" stroke-width="3.2"/>
<line x1="1079.6" y1="1001.0" x2="1079.6" y2="1033.7" stroke-width="2.1"/><line x1="1070.3" y1="1001.0" x2="1088.8" y2="1001.0" stroke-width="2.1"/><line x1="1070.3" y1="1033.7" x2="1088.8" y2="1033.7" stroke-width="2.1"/>
<line x1="1192.7" y1="798.1" x2="1192.7" y2="836.5" stroke-width="2.1"/><line x1="1184.2" y1="798.1" x2="1201.2" y2="798.1" stroke-width="2.1"/><line x1="1184.2" y1="836.5" x2="1201.2" y2="836.5" stroke-width="2.1"/>
<line x1="1021.2" y1="766.1" x2="1021.2" y2="1089.5" stroke-width="3.4"/>
<line x1="1011.7" y1="1081.0" x2="1251.7" y2="1081.0" stroke-width="3.4"/>
<line x1="1011.7" y1="767.8" x2="1021.2" y2="767.8" stroke-width="3.4"/>
<text x="992.9" y="777.3" font-size="29.30" text-anchor="end" textLength="38.8" lengthAdjust="spacingAndGlyphs">5.0</text>
<line x1="1011.7" y1="830.4" x2="1021.2" y2="830.4" stroke-width="3.4"/>
<text x="992.9" y="839.9" font-size="29.30" text-anchor="end" textLength="38.8" lengthAdjust="spacingAndGlyphs">4.0</text>
<line x1="1011.7" y1="893.1" x2="1021.2" y2="893.1" stroke-width="3.4"/>
<text x="992.9" y="902.6" font-size="29.30" text-anchor="end" textLength="38.8" lengthAdjust="spacingAndGlyphs">3.0</text>
<line x1="1011.7" y1="955.7" x2="1021.2" y2="955.7" stroke-width="3.4"/>
<text x="992.9" y="965.2" font-size="29.30" text-anchor="end" textLength="38.8" lengthAdjust="spacingAndGlyphs">2.0</text>
<line x1="1011.7" y1="1018.4" x2="1021.2" y2="1018.4" stroke-width="3.4"/>
<text x="992.9" y="1027.9" font-size="29.30" text-anchor="end" textLength="38.8" lengthAdjust="spacingAndGlyphs">1.0</text>
<text x="992.9" y="1090.5" font-size="29.30" text-anchor="end" textLength="38.8" lengthAdjust="spacingAndGlyphs">0.0</text>
<line x1="1135.3" y1="1081.0" x2="1135.3" y2="1089.5" stroke-width="3.4"/>
<line x1="1250.0" y1="1081.0" x2="1250.0" y2="1089.5" stroke-width="3.4"/>
<text x="1178.3" y="783.4" font-size="30.5" font-family='"DejaVu Sans", "Liberation Sans", sans-serif' letter-spacing="3.1">**</text>
<text x="1023.4" y="711.0" font-size="34.00" textLength="103.7" lengthAdjust="spacingAndGlyphs">Wnt7a</text>
<text x="927.3" y="1090.6" font-size="29.30" textLength="335.2" lengthAdjust="spacingAndGlyphs" transform="rotate(-90 927.3 1090.6)">Relative expression (folds)</text>
<text x="1084.6" y="1123.0" font-size="29.30" text-anchor="end" textLength="96.6" lengthAdjust="spacingAndGlyphs" transform="rotate(-45 1084.6 1123.0)">AF-MSC</text>
<text x="1198.9" y="1123.0" font-size="29.30" text-anchor="end" textLength="125.7" lengthAdjust="spacingAndGlyphs" transform="rotate(-45 1198.9 1123.0)">AF-N-MSC</text>
<rect x="1471.1" y="1025.5" width="44.5" height="51.7" fill="#636363" stroke="#000" stroke-width="3.2"/>
<rect x="1585.0" y="832.5" width="44.6" height="244.7" fill="#636363" stroke="#000" stroke-width="3.2"/>
<line x1="1493.7" y1="1011.3" x2="1493.7" y2="1037.3" stroke-width="2.1"/><line x1="1484.2" y1="1011.3" x2="1503.2" y2="1011.3" stroke-width="2.1"/><line x1="1484.2" y1="1037.3" x2="1503.2" y2="1037.3" stroke-width="2.1"/>
<line x1="1606.6" y1="825.5" x2="1606.6" y2="836.5" stroke-width="2.1"/><line x1="1596.6" y1="825.5" x2="1616.6" y2="825.5" stroke-width="2.1"/><line x1="1596.6" y1="836.5" x2="1616.6" y2="836.5" stroke-width="2.1"/>
<line x1="1437.0" y1="760.6" x2="1437.0" y2="1085.7" stroke-width="3.4"/>
<line x1="1427.5" y1="1077.2" x2="1666.2" y2="1077.2" stroke-width="3.4"/>
<line x1="1427.5" y1="762.3" x2="1437.0" y2="762.3" stroke-width="3.4"/>
<text x="1408.7" y="771.8" font-size="29.30" text-anchor="end" textLength="38.8" lengthAdjust="spacingAndGlyphs">6.0</text>
<line x1="1427.5" y1="814.8" x2="1437.0" y2="814.8" stroke-width="3.4"/>
<text x="1408.7" y="824.3" font-size="29.30" text-anchor="end" textLength="38.8" lengthAdjust="spacingAndGlyphs">5.0</text>
<line x1="1427.5" y1="867.3" x2="1437.0" y2="867.3" stroke-width="3.4"/>
<text x="1408.7" y="876.8" font-size="29.30" text-anchor="end" textLength="38.8" lengthAdjust="spacingAndGlyphs">4.0</text>
<line x1="1427.5" y1="919.8" x2="1437.0" y2="919.8" stroke-width="3.4"/>
<text x="1408.7" y="929.2" font-size="29.30" text-anchor="end" textLength="38.8" lengthAdjust="spacingAndGlyphs">3.0</text>
<line x1="1427.5" y1="972.2" x2="1437.0" y2="972.2" stroke-width="3.4"/>
<text x="1408.7" y="981.7" font-size="29.30" text-anchor="end" textLength="38.8" lengthAdjust="spacingAndGlyphs">2.0</text>
<line x1="1427.5" y1="1024.7" x2="1437.0" y2="1024.7" stroke-width="3.4"/>
<text x="1408.7" y="1034.2" font-size="29.30" text-anchor="end" textLength="38.8" lengthAdjust="spacingAndGlyphs">1.0</text>
<text x="1408.7" y="1086.7" font-size="29.30" text-anchor="end" textLength="38.8" lengthAdjust="spacingAndGlyphs">0.0</text>
<line x1="1549.6" y1="1077.2" x2="1549.6" y2="1085.7" stroke-width="3.4"/>
<line x1="1663.7" y1="1077.2" x2="1663.7" y2="1085.7" stroke-width="3.4"/>
<text x="1578.0" y="799.3" font-size="30.5" font-family='"DejaVu Sans", "Liberation Sans", sans-serif' letter-spacing="3.1">***</text>
<text x="1421.5" y="705.5" font-size="34.00" textLength="135.7" lengthAdjust="spacingAndGlyphs">PDGF-AA</text>
<text x="1338.3" y="1086.5" font-size="29.30" textLength="336.5" lengthAdjust="spacingAndGlyphs" transform="rotate(-90 1338.3 1086.5)">Relative expression (folds)</text>
<text x="1498.9" y="1119.2" font-size="29.30" text-anchor="end" textLength="96.6" lengthAdjust="spacingAndGlyphs" transform="rotate(-45 1498.9 1119.2)">AF-MSC</text>
<text x="1612.8" y="1119.2" font-size="29.30" text-anchor="end" textLength="125.7" lengthAdjust="spacingAndGlyphs" transform="rotate(-45 1612.8 1119.2)">AF-N-MSC</text>
<text x="0.9" y="1418.4" font-size="33.80" textLength="21.6" lengthAdjust="spacingAndGlyphs">D</text>
<defs>
<filter id="b2" x="-30%" y="-80%" width="160%" height="260%"><feGaussianBlur stdDeviation="2"/></filter>
<filter id="b3" x="-30%" y="-80%" width="160%" height="260%"><feGaussianBlur stdDeviation="3.2"/></filter>
<filter id="b6" x="-40%" y="-100%" width="180%" height="300%"><feGaussianBlur stdDeviation="6"/></filter>
<filter id="b12" x="-50%" y="-120%" width="200%" height="340%"><feGaussianBlur stdDeviation="12"/></filter>
<filter id="grain" x="0" y="0" width="100%" height="100%"><feTurbulence type="fractalNoise" baseFrequency="0.22" numOctaves="2" seed="7"/><feColorMatrix type="matrix" values="0 0 0 0 0  0 0 0 0 0  0 0 0 0 0  1.6 0 0 0 -0.55"/></filter>
<linearGradient id="g1" x1="0" y1="0" x2="1" y2="0"><stop offset="0" stop-color="#dcdcdc"/><stop offset="0.2" stop-color="#cecece"/><stop offset="0.55" stop-color="#cccccc"/><stop offset="0.9" stop-color="#cccccc"/><stop offset="1" stop-color="#dadada"/></linearGradient>
<linearGradient id="g3" x1="0" y1="0" x2="1" y2="0"><stop offset="0" stop-color="#e4e4e4"/><stop offset="0.25" stop-color="#d4d4d4"/><stop offset="0.45" stop-color="#bcbcbc"/><stop offset="0.7" stop-color="#a0a0a0"/><stop offset="0.92" stop-color="#a0a0a0"/><stop offset="1" stop-color="#bcbcbc"/></linearGradient>
<linearGradient id="g4" x1="0" y1="0" x2="1" y2="0"><stop offset="0" stop-color="#cdcdcd"/><stop offset="0.45" stop-color="#bebebe"/><stop offset="0.7" stop-color="#a2a2a2"/><stop offset="0.9" stop-color="#9c9c9c"/><stop offset="1" stop-color="#b8b8b8"/></linearGradient>
</defs>
<text x="186.6" y="1474.8" font-size="36.00" textLength="124.5" lengthAdjust="spacingAndGlyphs" transform="rotate(-46 186.6 1474.8)">AF-MSC</text>
<text x="343.8" y="1474.8" font-size="36.00" textLength="161.5" lengthAdjust="spacingAndGlyphs" transform="rotate(-46 343.8 1474.8)">AF-N-MSC</text>
<clipPath id="bc1"><rect x="101.7" y="1486.5" width="328.1" height="65.5"/></clipPath>
<g clip-path="url(#bc1)">
<rect x="99.2" y="1484.0" width="333.1" height="70.5" fill="url(#g1)" stroke="none"/>
<ellipse cx="300" cy="1520" rx="45" ry="40" fill="#909090" fill-opacity="0.45" filter="url(#b12)"/>
<ellipse cx="192" cy="1514" rx="56" ry="5" fill="#808080" fill-opacity="0.5" filter="url(#b3)"/>
<ellipse cx="160" cy="1512.5" rx="20" ry="4.5" fill="#787878" fill-opacity="0.3" filter="url(#b3)"/>
<ellipse cx="299" cy="1518" rx="22" ry="11" fill="#5e5e5e" fill-opacity="0.62" filter="url(#b6)"/>
<ellipse cx="296" cy="1541" rx="11" ry="13" fill="#707070" fill-opacity="0.45" filter="url(#b6)"/>
<ellipse cx="352" cy="1517.5" rx="48" ry="6" fill="#747474" fill-opacity="0.5" filter="url(#b3)"/>
<ellipse cx="386" cy="1517" rx="13" ry="5.5" fill="#686868" fill-opacity="0.42" filter="url(#b3)"/>
<rect x="99.0" y="1484.0" width="334.0" height="71.0" fill="#555" stroke="none" filter="url(#grain)" opacity="0.24"/>
</g>
<rect x="100.7" y="1485.5" width="330.1" height="67.5" fill="none" stroke="#666" stroke-width="3"/>
<clipPath id="bc2"><rect x="101.7" y="1574.7" width="328.1" height="67.8"/></clipPath>
<g clip-path="url(#bc2)">
<rect x="99.2" y="1572.2" width="333.1" height="72.8" fill="#9d9d9d" stroke="none"/>
<ellipse cx="170" cy="1613" rx="48" ry="4.2" fill="#3c3c3c" fill-opacity="0.5" filter="url(#b3)"/>
<ellipse cx="128" cy="1612" rx="10" ry="5.5" fill="#3c3c3c" fill-opacity="0.4" filter="url(#b3)" transform="rotate(-30 128 1612)"/>
<ellipse cx="238" cy="1613.5" rx="15" ry="5.2" fill="#000" fill-opacity="1" filter="url(#b2)"/>
<ellipse cx="239" cy="1613.5" rx="11" ry="3.6" fill="#000" fill-opacity="1" filter="url(#b2)"/>
<ellipse cx="225" cy="1612" rx="12" ry="3" fill="#222" fill-opacity="0.6" filter="url(#b3)"/>
<ellipse cx="305" cy="1610" rx="30" ry="4.2" fill="#3a3a3a" fill-opacity="0.55" filter="url(#b3)" transform="rotate(-4 305 1610)"/>
<ellipse cx="282" cy="1613" rx="8" ry="5" fill="#d0d0d0" fill-opacity="0.3" filter="url(#b3)"/>
<ellipse cx="374" cy="1605.5" rx="35" ry="6.3" fill="#000" fill-opacity="1" filter="url(#b2)"/>
<ellipse cx="378" cy="1605.5" rx="29" ry="5" fill="#000" fill-opacity="1" filter="url(#b2)"/>
<ellipse cx="338" cy="1608" rx="16" ry="3.5" fill="#111" fill-opacity="0.7" filter="url(#b3)" transform="rotate(-5 338 1608)"/>
<ellipse cx="330" cy="1588" rx="80" ry="9" fill="#b4b4b4" fill-opacity="0.45" filter="url(#b6)"/>
</g>
<rect x="100.7" y="1573.7" width="330.1" height="69.8" fill="none" stroke="#666" stroke-width="3"/>
<clipPath id="bc3"><rect x="101.7" y="1662.9" width="328.1" height="65.9"/></clipPath>
<g clip-path="url(#bc3)">
<rect x="99.2" y="1660.4" width="333.1" height="70.9" fill="url(#g3)" stroke="none"/>
<ellipse cx="238" cy="1668" rx="30" ry="16" fill="#6a6a6a" fill-opacity="0.7" filter="url(#b12)"/>
<ellipse cx="342" cy="1694" rx="68" ry="17" fill="#1a1a1a" fill-opacity="0.55" filter="url(#b12)"/>
<ellipse cx="190" cy="1695" rx="60" ry="4.8" fill="#303030" fill-opacity="0.55" filter="url(#b3)"/>
<ellipse cx="150" cy="1696" rx="12" ry="4.6" fill="#222" fill-opacity="0.5" filter="url(#b3)"/>
<ellipse cx="172" cy="1696" rx="10" ry="4.6" fill="#222" fill-opacity="0.5" filter="url(#b3)"/>
<ellipse cx="205" cy="1693.5" rx="10" ry="4.2" fill="#222" fill-opacity="0.5" filter="url(#b3)"/>
<ellipse cx="243" cy="1693.5" rx="11" ry="4.3" fill="#111" fill-opacity="0.8" filter="url(#b3)"/>
<ellipse cx="232" cy="1699" rx="8" ry="3.6" fill="#222" fill-opacity="0.4" filter="url(#b3)"/>
<ellipse cx="340" cy="1692.5" rx="55" ry="7.2" fill="#000" fill-opacity="1" filter="url(#b3)"/>
<ellipse cx="348" cy="1692.5" rx="46" ry="5.8" fill="#000" fill-opacity="1" filter="url(#b2)"/>
<ellipse cx="225" cy="1722" rx="22" ry="8" fill="#e8e8e8" fill-opacity="0.7" filter="url(#b6)"/>
<ellipse cx="120" cy="1722" rx="22" ry="8" fill="#f0f0f0" fill-opacity="0.7" filter="url(#b6)"/>
</g>
<rect x="100.7" y="1661.9" width="330.1" height="67.9" fill="none" stroke="#666" stroke-width="3"/>
<clipPath id="bc4"><rect x="101.7" y="1751.2" width="328.1" height="66.1"/></clipPath>
<g clip-path="url(#bc4)">
<rect x="99.2" y="1748.7" width="333.1" height="71.1" fill="url(#g4)" stroke="none"/>
<ellipse cx="355" cy="1762" rx="60" ry="12" fill="#8a8a8a" fill-opacity="0.55" filter="url(#b12)"/>
<ellipse cx="140" cy="1783.5" rx="22" ry="3.8" fill="#4a4a4a" fill-opacity="0.5" filter="url(#b3)"/>
<ellipse cx="180" cy="1784.5" rx="40" ry="3" fill="#5a5a5a" fill-opacity="0.4" filter="url(#b3)"/>
<ellipse cx="222" cy="1783" rx="17" ry="3.8" fill="#4a4a4a" fill-opacity="0.5" filter="url(#b3)"/>
<ellipse cx="345" cy="1786" rx="70" ry="8.5" fill="#2a2a2a" fill-opacity="0.5" filter="url(#b6)"/>
<ellipse cx="298" cy="1784.5" rx="23" ry="5.3" fill="#000" fill-opacity="1" filter="url(#b2)"/>
<ellipse cx="345" cy="1786.5" rx="50" ry="4" fill="#000" fill-opacity="0.9" filter="url(#b2)"/>
<ellipse cx="358" cy="1784.5" rx="14" ry="4.4" fill="#000" fill-opacity="0.9" filter="url(#b2)"/>
<ellipse cx="393" cy="1784.5" rx="20" ry="5" fill="#000" fill-opacity="1" filter="url(#b2)"/>
</g>
<rect x="100.7" y="1750.2" width="330.1" height="68.1" fill="none" stroke="#666" stroke-width="3"/>
<clipPath id="bc5"><rect x="101.7" y="1841.1" width="328.1" height="66.4"/></clipPath>
<g clip-path="url(#bc5)">
<rect x="99.2" y="1838.6" width="333.1" height="71.4" fill="#dadada" stroke="none"/>
<ellipse cx="186" cy="1876.5" rx="74" ry="11" fill="#555" fill-opacity="0.4" filter="url(#b6)"/>
<ellipse cx="345" cy="1876.5" rx="74" ry="11" fill="#555" fill-opacity="0.4" filter="url(#b6)"/>
<rect x="121" y="1869.2" width="130" height="15" rx="7.5" fill="#000" filter="url(#b2)"/>
<ellipse cx="222" cy="1875.8" rx="28" ry="9.2" fill="#000" fill-opacity="1" filter="url(#b2)"/>
<rect x="279" y="1869.2" width="132" height="15" rx="7.5" fill="#000" filter="url(#b2)"/>
<ellipse cx="315" cy="1876.2" rx="30" ry="8.8" fill="#000" fill-opacity="1" filter="url(#b2)"/>
<ellipse cx="395" cy="1875.5" rx="16" ry="8.8" fill="#000" fill-opacity="1" filter="url(#b2)"/>
<ellipse cx="372" cy="1877" rx="18" ry="1.3" fill="#999" fill-opacity="0.9" filter="url(#b2)" transform="rotate(-4 372 1877)"/>
</g>
<rect x="100.7" y="1840.1" width="330.1" height="68.4" fill="none" stroke="#666" stroke-width="3"/>
<text x="457.8" y="1527.3" font-size="33.80" textLength="78.3" lengthAdjust="spacingAndGlyphs">bFGF</text>
<text x="458.2" y="1623.1" font-size="33.80" textLength="48.8" lengthAdjust="spacingAndGlyphs">IGF</text>
<text x="457.2" y="1708.1" font-size="33.80" textLength="105.2" lengthAdjust="spacingAndGlyphs">Wnt7a</text>
<text x="458.2" y="1796.4" font-size="33.80" textLength="141.8" lengthAdjust="spacingAndGlyphs">PDGF-AA</text>
<text x="457.8" y="1887.8" font-size="33.80" textLength="154.0" lengthAdjust="spacingAndGlyphs">α-Tubulin</text>
<text x="831.8" y="1418.3" font-size="33.80" textLength="17.2" lengthAdjust="spacingAndGlyphs">E</text>
<rect x="1023.1" y="1618.0" width="41.6" height="247.6" fill="#adb9ca" stroke="#000" stroke-width="3.3"/>
<rect x="1156.2" y="1515.0" width="38.8" height="350.6" fill="#f4b183" stroke="#000" stroke-width="3.3"/>
<line x1="1043.8" y1="1582.0" x2="1043.8" y2="1652.2" stroke-width="3.2"/><line x1="1035.8" y1="1582.0" x2="1051.8" y2="1582.0" stroke-width="3.2"/><line x1="1035.8" y1="1652.2" x2="1051.8" y2="1652.2" stroke-width="3.2"/>
<line x1="1175.4" y1="1506.8" x2="1175.4" y2="1522.6" stroke-width="3.2"/><line x1="1166.4" y1="1506.8" x2="1184.4" y2="1506.8" stroke-width="3.2"/><line x1="1166.4" y1="1522.6" x2="1184.4" y2="1522.6" stroke-width="3.2"/>
<line x1="976.6" y1="1442.2" x2="976.6" y2="1876.0" stroke-width="3.5"/>
<line x1="965.1" y1="1865.5" x2="1244.0" y2="1865.5" stroke-width="3.5"/>
<line x1="965.1" y1="1444.0" x2="976.6" y2="1444.0" stroke-width="3.5"/>
<text x="943.8" y="1455.2" font-size="32.50" text-anchor="end">4</text>
<line x1="965.1" y1="1496.7" x2="976.6" y2="1496.7" stroke-width="3.5"/>
<text x="943.8" y="1507.9" font-size="32.50" text-anchor="end" textLength="41.8" lengthAdjust="spacingAndGlyphs">3.5</text>
<line x1="965.1" y1="1549.4" x2="976.6" y2="1549.4" stroke-width="3.5"/>
<text x="943.8" y="1560.6" font-size="32.50" text-anchor="end">3</text>
<line x1="965.1" y1="1602.1" x2="976.6" y2="1602.1" stroke-width="3.5"/>
<text x="943.8" y="1613.3" font-size="32.50" text-anchor="end" textLength="41.8" lengthAdjust="spacingAndGlyphs">2.5</text>
<line x1="965.1" y1="1654.8" x2="976.6" y2="1654.8" stroke-width="3.5"/>
<text x="943.8" y="1666.0" font-size="32.50" text-anchor="end">2</text>
<line x1="965.1" y1="1707.4" x2="976.6" y2="1707.4" stroke-width="3.5"/>
<text x="943.8" y="1718.6" font-size="32.50" text-anchor="end" textLength="41.8" lengthAdjust="spacingAndGlyphs">1.5</text>
<line x1="965.1" y1="1760.1" x2="976.6" y2="1760.1" stroke-width="3.5"/>
<text x="943.8" y="1771.3" font-size="32.50" text-anchor="end">1</text>
<line x1="965.1" y1="1812.8" x2="976.6" y2="1812.8" stroke-width="3.5"/>
<text x="943.8" y="1824.0" font-size="32.50" text-anchor="end" textLength="41.8" lengthAdjust="spacingAndGlyphs">0.5</text>
<text x="943.8" y="1876.7" font-size="32.50" text-anchor="end">0</text>
<line x1="1109.0" y1="1865.5" x2="1109.0" y2="1876.0" stroke-width="3.5"/>
<line x1="1241.8" y1="1865.5" x2="1241.8" y2="1876.0" stroke-width="3.5"/>
<text x="1168.2" y="1489.0" font-size="30.5" font-family='"DejaVu Sans", "Liberation Sans", sans-serif' letter-spacing="3.1">*</text>
<text x="1070.6" y="1919.3" font-size="34.00" textLength="77.7" lengthAdjust="spacingAndGlyphs">bFGF</text>
<text x="860.5" y="1784.1" font-size="34.00" textLength="261.0" lengthAdjust="spacingAndGlyphs" transform="rotate(-90 860.5 1784.1)">Amounts(pg/ml)</text>
<rect x="999.5" y="1420.5" width="19.8" height="18.3" fill="#adb9ca" stroke="#000" stroke-width="3.6"/>
<rect x="999.5" y="1468.9" width="19.8" height="20.4" fill="#f4b183" stroke="#000" stroke-width="3.6"/>
<text x="1027.5" y="1440.6" font-size="29.30" textLength="84.5" lengthAdjust="spacingAndGlyphs">AF-CM</text>
<text x="1027.0" y="1490.6" font-size="29.30" textLength="114.5" lengthAdjust="spacingAndGlyphs">AF-N-CM</text>
<rect x="1453.9" y="1647.5" width="39.7" height="213.8" fill="#adb9ca" stroke="#000" stroke-width="3.3"/>
<rect x="1582.5" y="1564.7" width="39.6" height="296.6" fill="#f4b183" stroke="#000" stroke-width="3.3"/>
<line x1="1474.2" y1="1635.4" x2="1474.2" y2="1658.4" stroke-width="3.2"/><line x1="1465.7" y1="1635.4" x2="1482.7" y2="1635.4" stroke-width="3.2"/><line x1="1465.7" y1="1658.4" x2="1482.7" y2="1658.4" stroke-width="3.2"/>
<line x1="1601.9" y1="1507.1" x2="1601.9" y2="1621.3" stroke-width="3.2"/><line x1="1593.9" y1="1507.1" x2="1609.9" y2="1507.1" stroke-width="3.2"/><line x1="1593.9" y1="1621.3" x2="1609.9" y2="1621.3" stroke-width="3.2"/>
<line x1="1411.0" y1="1437.2" x2="1411.0" y2="1871.8" stroke-width="3.5"/>
<line x1="1398.4" y1="1861.3" x2="1669.5" y2="1861.3" stroke-width="3.5"/>
<line x1="1398.4" y1="1438.9" x2="1411.0" y2="1438.9" stroke-width="3.5"/>
<text x="1374.4" y="1452.0" font-size="35.30" text-anchor="end" textLength="47.0" lengthAdjust="spacingAndGlyphs">3.5</text>
<line x1="1398.4" y1="1499.2" x2="1411.0" y2="1499.2" stroke-width="3.5"/>
<text x="1374.4" y="1512.3" font-size="35.30" text-anchor="end">3</text>
<line x1="1398.4" y1="1559.6" x2="1411.0" y2="1559.6" stroke-width="3.5"/>
<text x="1374.4" y="1572.7" font-size="35.30" text-anchor="end" textLength="47.0" lengthAdjust="spacingAndGlyphs">2.5</text>
<line x1="1398.4" y1="1619.9" x2="1411.0" y2="1619.9" stroke-width="3.5"/>
<text x="1374.4" y="1633.0" font-size="35.30" text-anchor="end">2</text>
<line x1="1398.4" y1="1680.3" x2="1411.0" y2="1680.3" stroke-width="3.5"/>
<text x="1374.4" y="1693.4" font-size="35.30" text-anchor="end" textLength="47.0" lengthAdjust="spacingAndGlyphs">1.5</text>
<line x1="1398.4" y1="1740.6" x2="1411.0" y2="1740.6" stroke-width="3.5"/>
<text x="1374.4" y="1753.7" font-size="35.30" text-anchor="end">1</text>
<line x1="1398.4" y1="1801.0" x2="1411.0" y2="1801.0" stroke-width="3.5"/>
<text x="1374.4" y="1814.1" font-size="35.30" text-anchor="end" textLength="47.0" lengthAdjust="spacingAndGlyphs">0.5</text>
<text x="1374.4" y="1874.4" font-size="35.30" text-anchor="end">0</text>
<line x1="1538.7" y1="1861.3" x2="1538.7" y2="1871.8" stroke-width="3.5"/>
<line x1="1667.2" y1="1861.3" x2="1667.2" y2="1871.8" stroke-width="3.5"/>
<text x="1591.4" y="1486.4" font-size="30.5" font-family='"DejaVu Sans", "Liberation Sans", sans-serif' letter-spacing="3.1">*</text>
<text x="1514.0" y="1915.9" font-size="34.00" textLength="50.0" lengthAdjust="spacingAndGlyphs">IGF</text>
<text x="1294.3" y="1777.1" font-size="34.00" textLength="262.4" lengthAdjust="spacingAndGlyphs" transform="rotate(-90 1294.3 1777.1)">Amounts(ng/ml)</text>
<rect x="1023.1" y="2178.8" width="41.6" height="230.3" fill="#adb9ca" stroke="#000" stroke-width="3.3"/>
<rect x="1156.2" y="2072.2" width="41.0" height="337.0" fill="#f4b183" stroke="#000" stroke-width="3.3"/>
<line x1="1044.0" y1="2156.9" x2="1044.0" y2="2195.9" stroke-width="3.2"/><line x1="1035.5" y1="2156.9" x2="1052.5" y2="2156.9" stroke-width="3.2"/><line x1="1035.5" y1="2195.9" x2="1052.5" y2="2195.9" stroke-width="3.2"/>
<line x1="1177.5" y1="2037.7" x2="1177.5" y2="2103.6" stroke-width="3.2"/><line x1="1168.8" y1="2037.7" x2="1186.2" y2="2037.7" stroke-width="3.2"/><line x1="1168.8" y1="2103.6" x2="1186.2" y2="2103.6" stroke-width="3.2"/>
<line x1="976.6" y1="1986.5" x2="976.6" y2="2419.7" stroke-width="3.5"/>
<line x1="965.1" y1="2409.2" x2="1245.5" y2="2409.2" stroke-width="3.5"/>
<line x1="965.1" y1="1988.3" x2="976.6" y2="1988.3" stroke-width="3.5"/>
<text x="942.3" y="1999.5" font-size="35.30" text-anchor="end" textLength="38.6" lengthAdjust="spacingAndGlyphs">10</text>
<line x1="965.1" y1="2072.5" x2="976.6" y2="2072.5" stroke-width="3.5"/>
<text x="942.3" y="2083.7" font-size="35.30" text-anchor="end">8</text>
<line x1="965.1" y1="2156.7" x2="976.6" y2="2156.7" stroke-width="3.5"/>
<text x="942.3" y="2167.9" font-size="35.30" text-anchor="end">6</text>
<line x1="965.1" y1="2240.8" x2="976.6" y2="2240.8" stroke-width="3.5"/>
<text x="942.3" y="2252.0" font-size="35.30" text-anchor="end">4</text>
<line x1="965.1" y1="2325.0" x2="976.6" y2="2325.0" stroke-width="3.5"/>
<text x="942.3" y="2336.2" font-size="35.30" text-anchor="end">2</text>
<text x="942.3" y="2420.4" font-size="35.30" text-anchor="end">0</text>
<line x1="1110.4" y1="2409.2" x2="1110.4" y2="2419.7" stroke-width="3.5"/>
<line x1="1243.2" y1="2409.2" x2="1243.2" y2="2419.7" stroke-width="3.5"/>
<text x="1160.4" y="2023.2" font-size="30.5" font-family='"DejaVu Sans", "Liberation Sans", sans-serif' letter-spacing="3.1">**</text>
<text x="1058.5" y="2464.7" font-size="34.00" textLength="104.5" lengthAdjust="spacingAndGlyphs">Wnt7a</text>
<text x="863.1" y="2326.7" font-size="34.00" textLength="263.2" lengthAdjust="spacingAndGlyphs" transform="rotate(-90 863.1 2326.7)">Amounts(pg/ml)</text>
<rect x="1455.2" y="2124.7" width="38.3" height="284.5" fill="#adb9ca" stroke="#000" stroke-width="3.3"/>
<rect x="1582.5" y="2038.6" width="39.6" height="370.6" fill="#f4b183" stroke="#000" stroke-width="3.3"/>
<line x1="1474.2" y1="2107.5" x2="1474.2" y2="2141.2" stroke-width="3.2"/><line x1="1465.7" y1="2107.5" x2="1482.7" y2="2107.5" stroke-width="3.2"/><line x1="1465.7" y1="2141.2" x2="1482.7" y2="2141.2" stroke-width="3.2"/>
<line x1="1602.5" y1="2012.4" x2="1602.5" y2="2063.5" stroke-width="3.2"/><line x1="1594.0" y1="2012.4" x2="1611.0" y2="2012.4" stroke-width="3.2"/><line x1="1594.0" y1="2063.5" x2="1611.0" y2="2063.5" stroke-width="3.2"/>
<line x1="1411.0" y1="1986.5" x2="1411.0" y2="2419.7" stroke-width="3.5"/>
<line x1="1398.4" y1="2409.2" x2="1669.5" y2="2409.2" stroke-width="3.5"/>
<line x1="1398.4" y1="1988.3" x2="1411.0" y2="1988.3" stroke-width="3.5"/>
<text x="1375.2" y="1999.6" font-size="35.30" text-anchor="end" textLength="47.0" lengthAdjust="spacingAndGlyphs">2.5</text>
<line x1="1398.4" y1="2072.5" x2="1411.0" y2="2072.5" stroke-width="3.5"/>
<text x="1375.2" y="2083.8" font-size="35.30" text-anchor="end">2</text>
<line x1="1398.4" y1="2156.7" x2="1411.0" y2="2156.7" stroke-width="3.5"/>
<text x="1375.2" y="2168.0" font-size="35.30" text-anchor="end" textLength="47.0" lengthAdjust="spacingAndGlyphs">1.5</text>
<line x1="1398.4" y1="2240.8" x2="1411.0" y2="2240.8" stroke-width="3.5"/>
<text x="1375.2" y="2252.1" font-size="35.30" text-anchor="end">1</text>
<line x1="1398.4" y1="2325.0" x2="1411.0" y2="2325.0" stroke-width="3.5"/>
<text x="1375.2" y="2336.3" font-size="35.30" text-anchor="end" textLength="47.0" lengthAdjust="spacingAndGlyphs">0.5</text>
<text x="1375.2" y="2420.5" font-size="35.30" text-anchor="end">0</text>
<line x1="1538.7" y1="2409.2" x2="1538.7" y2="2419.7" stroke-width="3.5"/>
<line x1="1667.2" y1="2409.2" x2="1667.2" y2="2419.7" stroke-width="3.5"/>
<text x="1594.2" y="2000.7" font-size="30.5" font-family='"DejaVu Sans", "Liberation Sans", sans-serif' letter-spacing="3.1">*</text>
<text x="1468.0" y="2464.7" font-size="34.00" textLength="142.2" lengthAdjust="spacingAndGlyphs">PDGF-AA</text>
<text x="1305.5" y="2332.9" font-size="34.00" textLength="263.3" lengthAdjust="spacingAndGlyphs" transform="rotate(-90 1305.5 2332.9)">Amounts(pg/ml)</text>
<text x="1.6" y="1986.5" font-size="33.80" textLength="14.8" lengthAdjust="spacingAndGlyphs">F</text>
<rect x="169.8" y="2282.3" width="65.7" height="156.5" fill="#636363" stroke="#000" stroke-width="3.2"/>
<rect x="235.5" y="2210.8" width="68.3" height="228.0" fill="#b2b2b2" stroke="#000" stroke-width="3.2"/>
<rect x="303.8" y="2236.2" width="68.3" height="202.6" fill="#808080" stroke="#000" stroke-width="3.2"/>
<rect x="477.5" y="2239.7" width="65.1" height="199.1" fill="#636363" stroke="#000" stroke-width="3.2"/>
<rect x="542.6" y="2131.8" width="68.3" height="307.0" fill="#b2b2b2" stroke="#000" stroke-width="3.2"/>
<rect x="610.9" y="2127.0" width="69.6" height="311.8" fill="#808080" stroke="#000" stroke-width="3.2"/>
<line x1="202.8" y1="2276.2" x2="202.8" y2="2285.5" stroke-width="1.6"/><line x1="194.1" y1="2276.2" x2="211.6" y2="2276.2" stroke-width="1.6"/><line x1="194.1" y1="2285.5" x2="211.6" y2="2285.5" stroke-width="1.6"/>
<line x1="270.8" y1="2199.0" x2="270.8" y2="2217.2" stroke-width="1.6"/><line x1="262.5" y1="2199.0" x2="279.1" y2="2199.0" stroke-width="1.6"/><line x1="262.5" y1="2217.2" x2="279.1" y2="2217.2" stroke-width="1.6"/>
<line x1="339.2" y1="2222.6" x2="339.2" y2="2248.6" stroke-width="1.6"/><line x1="330.2" y1="2222.6" x2="348.2" y2="2222.6" stroke-width="1.6"/><line x1="330.2" y1="2248.6" x2="348.2" y2="2248.6" stroke-width="1.6"/>
<line x1="509.9" y1="2233.8" x2="509.9" y2="2243.2" stroke-width="1.6"/><line x1="501.9" y1="2233.8" x2="517.9" y2="2233.8" stroke-width="1.6"/><line x1="501.9" y1="2243.2" x2="517.9" y2="2243.2" stroke-width="1.6"/>
<line x1="578.2" y1="2112.2" x2="578.2" y2="2145.4" stroke-width="1.6"/><line x1="570.2" y1="2112.2" x2="586.2" y2="2112.2" stroke-width="1.6"/><line x1="570.2" y1="2145.4" x2="586.2" y2="2145.4" stroke-width="1.6"/>
<line x1="646.5" y1="2102.9" x2="646.5" y2="2148.9" stroke-width="1.6"/><line x1="638.5" y1="2102.9" x2="654.5" y2="2102.9" stroke-width="1.6"/><line x1="638.5" y1="2148.9" x2="654.5" y2="2148.9" stroke-width="1.6"/>
<line x1="117.9" y1="2016.0" x2="117.9" y2="2447.8" stroke-width="3.5"/>
<line x1="108.4" y1="2438.8" x2="735.0" y2="2438.8" stroke-width="3.5"/>
<line x1="425.0" y1="2438.8" x2="425.0" y2="2447.8" stroke-width="3.5"/>
<line x1="733.2" y1="2438.8" x2="733.2" y2="2447.8" stroke-width="3.5"/>
<line x1="108.4" y1="2017.7" x2="117.9" y2="2017.7" stroke-width="3.5"/>
<text x="88.6" y="2028.9" font-size="29.80" text-anchor="end" textLength="15.8" lengthAdjust="spacingAndGlyphs">3</text>
<line x1="108.4" y1="2087.9" x2="117.9" y2="2087.9" stroke-width="3.5"/>
<text x="88.6" y="2099.1" font-size="29.80" text-anchor="end" textLength="38.0" lengthAdjust="spacingAndGlyphs">2.5</text>
<line x1="108.4" y1="2158.1" x2="117.9" y2="2158.1" stroke-width="3.5"/>
<text x="88.6" y="2169.3" font-size="29.80" text-anchor="end" textLength="15.8" lengthAdjust="spacingAndGlyphs">2</text>
<line x1="108.4" y1="2228.2" x2="117.9" y2="2228.2" stroke-width="3.5"/>
<text x="88.6" y="2239.4" font-size="29.80" text-anchor="end" textLength="38.0" lengthAdjust="spacingAndGlyphs">1.5</text>
<line x1="108.4" y1="2298.4" x2="117.9" y2="2298.4" stroke-width="3.5"/>
<text x="88.6" y="2309.6" font-size="29.80" text-anchor="end" textLength="15.8" lengthAdjust="spacingAndGlyphs">1</text>
<line x1="108.4" y1="2368.6" x2="117.9" y2="2368.6" stroke-width="3.5"/>
<text x="88.6" y="2379.8" font-size="29.80" text-anchor="end" textLength="38.0" lengthAdjust="spacingAndGlyphs">0.5</text>
<text x="88.6" y="2450.0" font-size="29.80" text-anchor="end" textLength="15.8" lengthAdjust="spacingAndGlyphs">0</text>
<rect x="178.4" y="1991.6" width="21.9" height="20.4" fill="#636363" stroke="#000" stroke-width="3.7"/>
<rect x="178.4" y="2039.8" width="21.9" height="20.4" fill="#b2b2b2" stroke="#000" stroke-width="3.7"/>
<rect x="178.4" y="2087.5" width="21.9" height="20.4" fill="#808080" stroke="#000" stroke-width="3.7"/>
<text x="209.6" y="2013.7" font-size="34.00" textLength="105.4" lengthAdjust="spacingAndGlyphs">AF-CM</text>
<text x="209.6" y="2061.6" font-size="34.00" textLength="142.4" lengthAdjust="spacingAndGlyphs">AF-N-CM</text>
<text x="211.2" y="2109.3" font-size="34.00" textLength="99.8" lengthAdjust="spacingAndGlyphs">Minox</text>
<path d="M203.6,2244.8 L203.6,2158.3 L301.3,2158.3 L301.3,2177.9" fill="none" stroke="#000" stroke-width="1.5"/>
<path d="M265.2,2187.8 L265.2,2177.9 L339.6,2177.9 L339.6,2199.8" fill="none" stroke="#000" stroke-width="1.5"/>
<text x="245.8" y="2157.2" font-size="30.5" font-family='"DejaVu Sans", "Liberation Sans", sans-serif' letter-spacing="3.1">*</text>
<path d="M509.1,2215.9 L509.1,2053.8 L607.1,2053.8 L607.1,2073.1" fill="none" stroke="#000" stroke-width="1.5"/>
<path d="M575.0,2094.8 L575.0,2073.1 L645.2,2073.1 L645.2,2094.8" fill="none" stroke="#000" stroke-width="1.5"/>
<text x="547.6" y="2045.5" font-size="30.5" font-family='"DejaVu Sans", "Liberation Sans", sans-serif' letter-spacing="3.1">*</text>
<text x="236.8" y="2489.1" font-size="29.80" textLength="69.5" lengthAdjust="spacingAndGlyphs">day 2</text>
<text x="543.6" y="2489.1" font-size="29.80" textLength="69.8" lengthAdjust="spacingAndGlyphs">day 4</text>
<text x="27.5" y="2396.7" font-size="34.00" textLength="336.7" lengthAdjust="spacingAndGlyphs" transform="rotate(-90 27.5 2396.7)">Relative Growht Rate</text>
</svg>
</body></html>
